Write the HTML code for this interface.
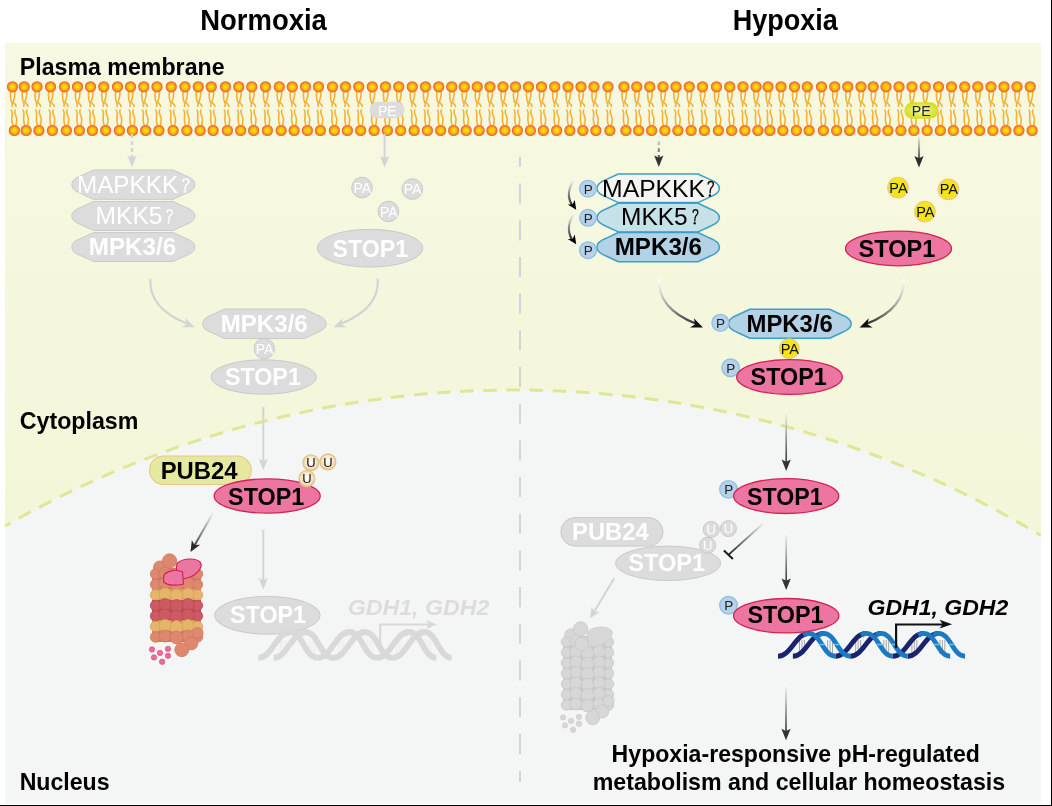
<!DOCTYPE html><html><head><meta charset="utf-8"><style>html,body{margin:0;padding:0;background:#fff;overflow:hidden}svg{display:block}text{font-family:'Liberation Sans', sans-serif}</style></head><body>
<svg width="1052" height="806" viewBox="0 0 1052 806" style="will-change:transform">
<defs>
<radialGradient id="hd" cx="0.5" cy="0.5" r="0.5"><stop offset="0" stop-color="#ffe500"/><stop offset="0.45" stop-color="#fcc40e"/><stop offset="0.78" stop-color="#f38428"/><stop offset="1" stop-color="#e6532e"/></radialGradient>
<radialGradient id="ug" cx="0.5" cy="0.45" r="0.5"><stop offset="0" stop-color="#ffffff"/><stop offset="0.6" stop-color="#f6ead2"/><stop offset="1" stop-color="#ecd2a4"/></radialGradient>
<radialGradient id="peg" cx="0.5" cy="0.5" r="0.5"><stop offset="0" stop-color="#fbfbd8"/><stop offset="0.45" stop-color="#e8ec70"/><stop offset="1" stop-color="#d5de22"/></radialGradient>
<clipPath id="bg"><rect x="5" y="43" width="1036" height="761"/></clipPath>
</defs>
<defs><linearGradient id="bgg" x1="0" y1="43" x2="0" y2="540" gradientUnits="userSpaceOnUse"><stop offset="0" stop-color="#f6f8e1"/><stop offset="1" stop-color="#f4f6d9"/></linearGradient></defs><rect x="5" y="43" width="1036" height="761" fill="url(#bgg)"/>
<g clip-path="url(#bg)"><circle cx="515" cy="1414" r="1024" fill="#f4f6f5"/><path d="M5,526.04 A1024,1024 0 0 1 1041,535.42" fill="none" stroke="#dfe794" stroke-width="3" stroke-dasharray="13.6 9.55" stroke-dashoffset="7.29"/></g>
<rect x="1051" y="0" width="1" height="806" fill="#000"/>
<rect x="0" y="805" width="1052" height="1" fill="#000"/>
<text font-size="29" font-weight="bold" font-style="normal" fill="#000" transform="translate(200.29,30) scale(0.9459,1)" >Normoxia</text>
<text font-size="29" font-weight="bold" font-style="normal" fill="#000" transform="translate(732.77,30) scale(0.9322,1)" >Hypoxia</text>
<text font-size="24.7" font-weight="bold" font-style="normal" fill="#000" transform="translate(19.77,75) scale(0.9389,1)" >Plasma membrane</text>
<text font-size="24.7" font-weight="bold" font-style="normal" fill="#000" transform="translate(19.82,429) scale(0.9392,1)" >Cytoplasm</text>
<text font-size="24.7" font-weight="bold" font-style="normal" fill="#000" transform="translate(19.65,790) scale(0.9362,1)" >Nucleus</text>
<path d="M10.70,91.5 C9.90,97 10.90,101 12.30,104 L12.00,106.5 M14.80,91.5 C15.50,96 14.00,99.5 13.10,102 C14.00,104 16.50,104.5 16.00,106.5 M11.20,110 C13.20,112 11.60,116.5 11.90,120 C12.10,123 12.70,124.5 12.90,125.5 M15.20,110 C13.20,112.5 17.00,116 16.70,120 C16.50,123 16.10,124.5 15.90,125.5 M22.45,91.5 C21.65,97 22.65,101 24.05,104 L23.75,106.5 M26.55,91.5 C27.25,96 25.75,99.5 24.85,102 C25.75,104 28.25,104.5 27.75,106.5 M22.95,110 C24.95,112 23.35,116.5 23.65,120 C23.85,123 24.45,124.5 24.65,125.5 M26.95,110 C24.95,112.5 28.75,116 28.45,120 C28.25,123 27.85,124.5 27.65,125.5 M35.20,91.5 C34.40,97 35.40,101 36.80,104 L36.50,106.5 M39.30,91.5 C40.00,96 38.50,99.5 37.60,102 C38.50,104 41.00,104.5 40.50,106.5 M35.70,110 C37.70,112 36.10,116.5 36.40,120 C36.60,123 37.20,124.5 37.40,125.5 M39.70,110 C37.70,112.5 41.50,116 41.20,120 C41.00,123 40.60,124.5 40.40,125.5 M48.70,91.5 C47.90,97 48.90,101 50.30,104 L50.00,106.5 M52.80,91.5 C53.50,96 52.00,99.5 51.10,102 C52.00,104 54.50,104.5 54.00,106.5 M49.20,110 C51.20,112 49.60,116.5 49.90,120 C50.10,123 50.70,124.5 50.90,125.5 M53.20,110 C51.20,112.5 55.00,116 54.70,120 C54.50,123 54.10,124.5 53.90,125.5 M62.70,91.5 C61.90,97 62.90,101 64.30,104 L64.00,106.5 M66.80,91.5 C67.50,96 66.00,99.5 65.10,102 C66.00,104 68.50,104.5 68.00,106.5 M63.20,110 C65.20,112 63.60,116.5 63.90,120 C64.10,123 64.70,124.5 64.90,125.5 M67.20,110 C65.20,112.5 69.00,116 68.70,120 C68.50,123 68.10,124.5 67.90,125.5 M75.70,91.5 C74.90,97 75.90,101 77.30,104 L77.00,106.5 M79.80,91.5 C80.50,96 79.00,99.5 78.10,102 C79.00,104 81.50,104.5 81.00,106.5 M76.20,110 C78.20,112 76.60,116.5 76.90,120 C77.10,123 77.70,124.5 77.90,125.5 M80.20,110 C78.20,112.5 82.00,116 81.70,120 C81.50,123 81.10,124.5 80.90,125.5 M88.70,91.5 C87.90,97 88.90,101 90.30,104 L90.00,106.5 M92.80,91.5 C93.50,96 92.00,99.5 91.10,102 C92.00,104 94.50,104.5 94.00,106.5 M89.20,110 C91.20,112 89.60,116.5 89.90,120 C90.10,123 90.70,124.5 90.90,125.5 M93.20,110 C91.20,112.5 95.00,116 94.70,120 C94.50,123 94.10,124.5 93.90,125.5 M101.95,91.5 C101.15,97 102.15,101 103.55,104 L103.25,106.5 M106.05,91.5 C106.75,96 105.25,99.5 104.35,102 C105.25,104 107.75,104.5 107.25,106.5 M102.45,110 C104.45,112 102.85,116.5 103.15,120 C103.35,123 103.95,124.5 104.15,125.5 M106.45,110 C104.45,112.5 108.25,116 107.95,120 C107.75,123 107.35,124.5 107.15,125.5 M115.70,91.5 C114.90,97 115.90,101 117.30,104 L117.00,106.5 M119.80,91.5 C120.50,96 119.00,99.5 118.10,102 C119.00,104 121.50,104.5 121.00,106.5 M116.20,110 C118.20,112 116.60,116.5 116.90,120 C117.10,123 117.70,124.5 117.90,125.5 M120.20,110 C118.20,112.5 122.00,116 121.70,120 C121.50,123 121.10,124.5 120.90,125.5 M128.70,91.5 C127.90,97 128.90,101 130.30,104 L130.00,106.5 M132.80,91.5 C133.50,96 132.00,99.5 131.10,102 C132.00,104 134.50,104.5 134.00,106.5 M129.20,110 C131.20,112 129.60,116.5 129.90,120 C130.10,123 130.70,124.5 130.90,125.5 M133.20,110 C131.20,112.5 135.00,116 134.70,120 C134.50,123 134.10,124.5 133.90,125.5 M141.95,91.5 C141.15,97 142.15,101 143.55,104 L143.25,106.5 M146.05,91.5 C146.75,96 145.25,99.5 144.35,102 C145.25,104 147.75,104.5 147.25,106.5 M142.45,110 C144.45,112 142.85,116.5 143.15,120 C143.35,123 143.95,124.5 144.15,125.5 M146.45,110 C144.45,112.5 148.25,116 147.95,120 C147.75,123 147.35,124.5 147.15,125.5 M155.20,91.5 C154.40,97 155.40,101 156.80,104 L156.50,106.5 M159.30,91.5 C160.00,96 158.50,99.5 157.60,102 C158.50,104 161.00,104.5 160.50,106.5 M155.70,110 C157.70,112 156.10,116.5 156.40,120 C156.60,123 157.20,124.5 157.40,125.5 M159.70,110 C157.70,112.5 161.50,116 161.20,120 C161.00,123 160.60,124.5 160.40,125.5 M169.45,91.5 C168.65,97 169.65,101 171.05,104 L170.75,106.5 M173.55,91.5 C174.25,96 172.75,99.5 171.85,102 C172.75,104 175.25,104.5 174.75,106.5 M169.95,110 C171.95,112 170.35,116.5 170.65,120 C170.85,123 171.45,124.5 171.65,125.5 M173.95,110 C171.95,112.5 175.75,116 175.45,120 C175.25,123 174.85,124.5 174.65,125.5 M183.20,91.5 C182.40,97 183.40,101 184.80,104 L184.50,106.5 M187.30,91.5 C188.00,96 186.50,99.5 185.60,102 C186.50,104 189.00,104.5 188.50,106.5 M183.70,110 C185.70,112 184.10,116.5 184.40,120 C184.60,123 185.20,124.5 185.40,125.5 M187.70,110 C185.70,112.5 189.50,116 189.20,120 C189.00,123 188.60,124.5 188.40,125.5 M196.45,91.5 C195.65,97 196.65,101 198.05,104 L197.75,106.5 M200.55,91.5 C201.25,96 199.75,99.5 198.85,102 C199.75,104 202.25,104.5 201.75,106.5 M196.95,110 C198.95,112 197.35,116.5 197.65,120 C197.85,123 198.45,124.5 198.65,125.5 M200.95,110 C198.95,112.5 202.75,116 202.45,120 C202.25,123 201.85,124.5 201.65,125.5 M209.45,91.5 C208.65,97 209.65,101 211.05,104 L210.75,106.5 M213.55,91.5 C214.25,96 212.75,99.5 211.85,102 C212.75,104 215.25,104.5 214.75,106.5 M209.95,110 C211.95,112 210.35,116.5 210.65,120 C210.85,123 211.45,124.5 211.65,125.5 M213.95,110 C211.95,112.5 215.75,116 215.45,120 C215.25,123 214.85,124.5 214.65,125.5 M223.70,91.5 C222.90,97 223.90,101 225.30,104 L225.00,106.5 M227.80,91.5 C228.50,96 227.00,99.5 226.10,102 C227.00,104 229.50,104.5 229.00,106.5 M224.20,110 C226.20,112 224.60,116.5 224.90,120 C225.10,123 225.70,124.5 225.90,125.5 M228.20,110 C226.20,112.5 230.00,116 229.70,120 C229.50,123 229.10,124.5 228.90,125.5 M236.95,91.5 C236.15,97 237.15,101 238.55,104 L238.25,106.5 M241.05,91.5 C241.75,96 240.25,99.5 239.35,102 C240.25,104 242.75,104.5 242.25,106.5 M237.45,110 C239.45,112 237.85,116.5 238.15,120 C238.35,123 238.95,124.5 239.15,125.5 M241.45,110 C239.45,112.5 243.25,116 242.95,120 C242.75,123 242.35,124.5 242.15,125.5 M249.95,91.5 C249.15,97 250.15,101 251.55,104 L251.25,106.5 M254.05,91.5 C254.75,96 253.25,99.5 252.35,102 C253.25,104 255.75,104.5 255.25,106.5 M250.45,110 C252.45,112 250.85,116.5 251.15,120 C251.35,123 251.95,124.5 252.15,125.5 M254.45,110 C252.45,112.5 256.25,116 255.95,120 C255.75,123 255.35,124.5 255.15,125.5 M263.70,91.5 C262.90,97 263.90,101 265.30,104 L265.00,106.5 M267.80,91.5 C268.50,96 267.00,99.5 266.10,102 C267.00,104 269.50,104.5 269.00,106.5 M264.20,110 C266.20,112 264.60,116.5 264.90,120 C265.10,123 265.70,124.5 265.90,125.5 M268.20,110 C266.20,112.5 270.00,116 269.70,120 C269.50,123 269.10,124.5 268.90,125.5 M277.45,91.5 C276.65,97 277.65,101 279.05,104 L278.75,106.5 M281.55,91.5 C282.25,96 280.75,99.5 279.85,102 C280.75,104 283.25,104.5 282.75,106.5 M277.95,110 C279.95,112 278.35,116.5 278.65,120 C278.85,123 279.45,124.5 279.65,125.5 M281.95,110 C279.95,112.5 283.75,116 283.45,120 C283.25,123 282.85,124.5 282.65,125.5 M290.45,91.5 C289.65,97 290.65,101 292.05,104 L291.75,106.5 M294.55,91.5 C295.25,96 293.75,99.5 292.85,102 C293.75,104 296.25,104.5 295.75,106.5 M290.95,110 C292.95,112 291.35,116.5 291.65,120 C291.85,123 292.45,124.5 292.65,125.5 M294.95,110 C292.95,112.5 296.75,116 296.45,120 C296.25,123 295.85,124.5 295.65,125.5 M303.70,91.5 C302.90,97 303.90,101 305.30,104 L305.00,106.5 M307.80,91.5 C308.50,96 307.00,99.5 306.10,102 C307.00,104 309.50,104.5 309.00,106.5 M304.20,110 C306.20,112 304.60,116.5 304.90,120 C305.10,123 305.70,124.5 305.90,125.5 M308.20,110 C306.20,112.5 310.00,116 309.70,120 C309.50,123 309.10,124.5 308.90,125.5 M316.70,91.5 C315.90,97 316.90,101 318.30,104 L318.00,106.5 M320.80,91.5 C321.50,96 320.00,99.5 319.10,102 C320.00,104 322.50,104.5 322.00,106.5 M317.20,110 C319.20,112 317.60,116.5 317.90,120 C318.10,123 318.70,124.5 318.90,125.5 M321.20,110 C319.20,112.5 323.00,116 322.70,120 C322.50,123 322.10,124.5 321.90,125.5 M330.70,91.5 C329.90,97 330.90,101 332.30,104 L332.00,106.5 M334.80,91.5 C335.50,96 334.00,99.5 333.10,102 C334.00,104 336.50,104.5 336.00,106.5 M331.20,110 C333.20,112 331.60,116.5 331.90,120 C332.10,123 332.70,124.5 332.90,125.5 M335.20,110 C333.20,112.5 337.00,116 336.70,120 C336.50,123 336.10,124.5 335.90,125.5 M343.70,91.5 C342.90,97 343.90,101 345.30,104 L345.00,106.5 M347.80,91.5 C348.50,96 347.00,99.5 346.10,102 C347.00,104 349.50,104.5 349.00,106.5 M344.20,110 C346.20,112 344.60,116.5 344.90,120 C345.10,123 345.70,124.5 345.90,125.5 M348.20,110 C346.20,112.5 350.00,116 349.70,120 C349.50,123 349.10,124.5 348.90,125.5 M356.95,91.5 C356.15,97 357.15,101 358.55,104 L358.25,106.5 M361.05,91.5 C361.75,96 360.25,99.5 359.35,102 C360.25,104 362.75,104.5 362.25,106.5 M357.45,110 C359.45,112 357.85,116.5 358.15,120 C358.35,123 358.95,124.5 359.15,125.5 M361.45,110 C359.45,112.5 363.25,116 362.95,120 C362.75,123 362.35,124.5 362.15,125.5 M370.45,91.5 C369.65,97 370.65,101 372.05,104 L371.75,106.5 M374.55,91.5 C375.25,96 373.75,99.5 372.85,102 C373.75,104 376.25,104.5 375.75,106.5 M370.95,110 C372.95,112 371.35,116.5 371.65,120 C371.85,123 372.45,124.5 372.65,125.5 M374.95,110 C372.95,112.5 376.75,116 376.45,120 C376.25,123 375.85,124.5 375.65,125.5 M383.70,91.5 C382.90,97 383.90,101 385.30,104 L385.00,106.5 M387.80,91.5 C388.50,96 387.00,99.5 386.10,102 C387.00,104 389.50,104.5 389.00,106.5 M384.20,110 C386.20,112 384.60,116.5 384.90,120 C385.10,123 385.70,124.5 385.90,125.5 M388.20,110 C386.20,112.5 390.00,116 389.70,120 C389.50,123 389.10,124.5 388.90,125.5 M396.95,91.5 C396.15,97 397.15,101 398.55,104 L398.25,106.5 M401.05,91.5 C401.75,96 400.25,99.5 399.35,102 C400.25,104 402.75,104.5 402.25,106.5 M397.45,110 C399.45,112 397.85,116.5 398.15,120 C398.35,123 398.95,124.5 399.15,125.5 M401.45,110 C399.45,112.5 403.25,116 402.95,120 C402.75,123 402.35,124.5 402.15,125.5 M410.45,91.5 C409.65,97 410.65,101 412.05,104 L411.75,106.5 M414.55,91.5 C415.25,96 413.75,99.5 412.85,102 C413.75,104 416.25,104.5 415.75,106.5 M410.95,110 C412.95,112 411.35,116.5 411.65,120 C411.85,123 412.45,124.5 412.65,125.5 M414.95,110 C412.95,112.5 416.75,116 416.45,120 C416.25,123 415.85,124.5 415.65,125.5 M423.70,91.5 C422.90,97 423.90,101 425.30,104 L425.00,106.5 M427.80,91.5 C428.50,96 427.00,99.5 426.10,102 C427.00,104 429.50,104.5 429.00,106.5 M424.20,110 C426.20,112 424.60,116.5 424.90,120 C425.10,123 425.70,124.5 425.90,125.5 M428.20,110 C426.20,112.5 430.00,116 429.70,120 C429.50,123 429.10,124.5 428.90,125.5 M436.95,91.5 C436.15,97 437.15,101 438.55,104 L438.25,106.5 M441.05,91.5 C441.75,96 440.25,99.5 439.35,102 C440.25,104 442.75,104.5 442.25,106.5 M437.45,110 C439.45,112 437.85,116.5 438.15,120 C438.35,123 438.95,124.5 439.15,125.5 M441.45,110 C439.45,112.5 443.25,116 442.95,120 C442.75,123 442.35,124.5 442.15,125.5 M449.95,91.5 C449.15,97 450.15,101 451.55,104 L451.25,106.5 M454.05,91.5 C454.75,96 453.25,99.5 452.35,102 C453.25,104 455.75,104.5 455.25,106.5 M450.45,110 C452.45,112 450.85,116.5 451.15,120 C451.35,123 451.95,124.5 452.15,125.5 M454.45,110 C452.45,112.5 456.25,116 455.95,120 C455.75,123 455.35,124.5 455.15,125.5 M462.45,91.5 C461.65,97 462.65,101 464.05,104 L463.75,106.5 M466.55,91.5 C467.25,96 465.75,99.5 464.85,102 C465.75,104 468.25,104.5 467.75,106.5 M462.95,110 C464.95,112 463.35,116.5 463.65,120 C463.85,123 464.45,124.5 464.65,125.5 M466.95,110 C464.95,112.5 468.75,116 468.45,120 C468.25,123 467.85,124.5 467.65,125.5 M475.45,91.5 C474.65,97 475.65,101 477.05,104 L476.75,106.5 M479.55,91.5 C480.25,96 478.75,99.5 477.85,102 C478.75,104 481.25,104.5 480.75,106.5 M475.95,110 C477.95,112 476.35,116.5 476.65,120 C476.85,123 477.45,124.5 477.65,125.5 M479.95,110 C477.95,112.5 481.75,116 481.45,120 C481.25,123 480.85,124.5 480.65,125.5 M488.20,91.5 C487.40,97 488.40,101 489.80,104 L489.50,106.5 M492.30,91.5 C493.00,96 491.50,99.5 490.60,102 C491.50,104 494.00,104.5 493.50,106.5 M488.70,110 C490.70,112 489.10,116.5 489.40,120 C489.60,123 490.20,124.5 490.40,125.5 M492.70,110 C490.70,112.5 494.50,116 494.20,120 C494.00,123 493.60,124.5 493.40,125.5 M501.20,91.5 C500.40,97 501.40,101 502.80,104 L502.50,106.5 M505.30,91.5 C506.00,96 504.50,99.5 503.60,102 C504.50,104 507.00,104.5 506.50,106.5 M501.70,110 C503.70,112 502.10,116.5 502.40,120 C502.60,123 503.20,124.5 503.40,125.5 M505.70,110 C503.70,112.5 507.50,116 507.20,120 C507.00,123 506.60,124.5 506.40,125.5 M513.70,91.5 C512.90,97 513.90,101 515.30,104 L515.00,106.5 M517.80,91.5 C518.50,96 517.00,99.5 516.10,102 C517.00,104 519.50,104.5 519.00,106.5 M514.20,110 C516.20,112 514.60,116.5 514.90,120 C515.10,123 515.70,124.5 515.90,125.5 M518.20,110 C516.20,112.5 520.00,116 519.70,120 C519.50,123 519.10,124.5 518.90,125.5 M526.70,91.5 C525.90,97 526.90,101 528.30,104 L528.00,106.5 M530.80,91.5 C531.50,96 530.00,99.5 529.10,102 C530.00,104 532.50,104.5 532.00,106.5 M527.20,110 C529.20,112 527.60,116.5 527.90,120 C528.10,123 528.70,124.5 528.90,125.5 M531.20,110 C529.20,112.5 533.00,116 532.70,120 C532.50,123 532.10,124.5 531.90,125.5 M539.70,91.5 C538.90,97 539.90,101 541.30,104 L541.00,106.5 M543.80,91.5 C544.50,96 543.00,99.5 542.10,102 C543.00,104 545.50,104.5 545.00,106.5 M540.20,110 C542.20,112 540.60,116.5 540.90,120 C541.10,123 541.70,124.5 541.90,125.5 M544.20,110 C542.20,112.5 546.00,116 545.70,120 C545.50,123 545.10,124.5 544.90,125.5 M552.95,91.5 C552.15,97 553.15,101 554.55,104 L554.25,106.5 M557.05,91.5 C557.75,96 556.25,99.5 555.35,102 C556.25,104 558.75,104.5 558.25,106.5 M553.45,110 C555.45,112 553.85,116.5 554.15,120 C554.35,123 554.95,124.5 555.15,125.5 M557.45,110 C555.45,112.5 559.25,116 558.95,120 C558.75,123 558.35,124.5 558.15,125.5 M566.20,91.5 C565.40,97 566.40,101 567.80,104 L567.50,106.5 M570.30,91.5 C571.00,96 569.50,99.5 568.60,102 C569.50,104 572.00,104.5 571.50,106.5 M566.70,110 C568.70,112 567.10,116.5 567.40,120 C567.60,123 568.20,124.5 568.40,125.5 M570.70,110 C568.70,112.5 572.50,116 572.20,120 C572.00,123 571.60,124.5 571.40,125.5 M579.20,91.5 C578.40,97 579.40,101 580.80,104 L580.50,106.5 M583.30,91.5 C584.00,96 582.50,99.5 581.60,102 C582.50,104 585.00,104.5 584.50,106.5 M579.70,110 C581.70,112 580.10,116.5 580.40,120 C580.60,123 581.20,124.5 581.40,125.5 M583.70,110 C581.70,112.5 585.50,116 585.20,120 C585.00,123 584.60,124.5 584.40,125.5 M592.20,91.5 C591.40,97 592.40,101 593.80,104 L593.50,106.5 M596.30,91.5 C597.00,96 595.50,99.5 594.60,102 C595.50,104 598.00,104.5 597.50,106.5 M592.70,110 C594.70,112 593.10,116.5 593.40,120 C593.60,123 594.20,124.5 594.40,125.5 M596.70,110 C594.70,112.5 598.50,116 598.20,120 C598.00,123 597.60,124.5 597.40,125.5 M606.20,91.5 C605.40,97 606.40,101 607.80,104 L607.50,106.5 M610.30,91.5 C611.00,96 609.50,99.5 608.60,102 C609.50,104 612.00,104.5 611.50,106.5 M606.70,110 C608.70,112 607.10,116.5 607.40,120 C607.60,123 608.20,124.5 608.40,125.5 M610.70,110 C608.70,112.5 612.50,116 612.20,120 C612.00,123 611.60,124.5 611.40,125.5 M622.20,91.5 C621.40,97 622.40,101 623.80,104 L623.50,106.5 M626.30,91.5 C627.00,96 625.50,99.5 624.60,102 C625.50,104 628.00,104.5 627.50,106.5 M622.70,110 C624.70,112 623.10,116.5 623.40,120 C623.60,123 624.20,124.5 624.40,125.5 M626.70,110 C624.70,112.5 628.50,116 628.20,120 C628.00,123 627.60,124.5 627.40,125.5 M634.95,91.5 C634.15,97 635.15,101 636.55,104 L636.25,106.5 M639.05,91.5 C639.75,96 638.25,99.5 637.35,102 C638.25,104 640.75,104.5 640.25,106.5 M635.45,110 C637.45,112 635.85,116.5 636.15,120 C636.35,123 636.95,124.5 637.15,125.5 M639.45,110 C637.45,112.5 641.25,116 640.95,120 C640.75,123 640.35,124.5 640.15,125.5 M647.95,91.5 C647.15,97 648.15,101 649.55,104 L649.25,106.5 M652.05,91.5 C652.75,96 651.25,99.5 650.35,102 C651.25,104 653.75,104.5 653.25,106.5 M648.45,110 C650.45,112 648.85,116.5 649.15,120 C649.35,123 649.95,124.5 650.15,125.5 M652.45,110 C650.45,112.5 654.25,116 653.95,120 C653.75,123 653.35,124.5 653.15,125.5 M661.20,91.5 C660.40,97 661.40,101 662.80,104 L662.50,106.5 M665.30,91.5 C666.00,96 664.50,99.5 663.60,102 C664.50,104 667.00,104.5 666.50,106.5 M661.70,110 C663.70,112 662.10,116.5 662.40,120 C662.60,123 663.20,124.5 663.40,125.5 M665.70,110 C663.70,112.5 667.50,116 667.20,120 C667.00,123 666.60,124.5 666.40,125.5 M674.20,91.5 C673.40,97 674.40,101 675.80,104 L675.50,106.5 M678.30,91.5 C679.00,96 677.50,99.5 676.60,102 C677.50,104 680.00,104.5 679.50,106.5 M674.70,110 C676.70,112 675.10,116.5 675.40,120 C675.60,123 676.20,124.5 676.40,125.5 M678.70,110 C676.70,112.5 680.50,116 680.20,120 C680.00,123 679.60,124.5 679.40,125.5 M687.45,91.5 C686.65,97 687.65,101 689.05,104 L688.75,106.5 M691.55,91.5 C692.25,96 690.75,99.5 689.85,102 C690.75,104 693.25,104.5 692.75,106.5 M687.95,110 C689.95,112 688.35,116.5 688.65,120 C688.85,123 689.45,124.5 689.65,125.5 M691.95,110 C689.95,112.5 693.75,116 693.45,120 C693.25,123 692.85,124.5 692.65,125.5 M700.70,91.5 C699.90,97 700.90,101 702.30,104 L702.00,106.5 M704.80,91.5 C705.50,96 704.00,99.5 703.10,102 C704.00,104 706.50,104.5 706.00,106.5 M701.20,110 C703.20,112 701.60,116.5 701.90,120 C702.10,123 702.70,124.5 702.90,125.5 M705.20,110 C703.20,112.5 707.00,116 706.70,120 C706.50,123 706.10,124.5 705.90,125.5 M714.70,91.5 C713.90,97 714.90,101 716.30,104 L716.00,106.5 M718.80,91.5 C719.50,96 718.00,99.5 717.10,102 C718.00,104 720.50,104.5 720.00,106.5 M715.20,110 C717.20,112 715.60,116.5 715.90,120 C716.10,123 716.70,124.5 716.90,125.5 M719.20,110 C717.20,112.5 721.00,116 720.70,120 C720.50,123 720.10,124.5 719.90,125.5 M727.95,91.5 C727.15,97 728.15,101 729.55,104 L729.25,106.5 M732.05,91.5 C732.75,96 731.25,99.5 730.35,102 C731.25,104 733.75,104.5 733.25,106.5 M728.45,110 C730.45,112 728.85,116.5 729.15,120 C729.35,123 729.95,124.5 730.15,125.5 M732.45,110 C730.45,112.5 734.25,116 733.95,120 C733.75,123 733.35,124.5 733.15,125.5 M741.20,91.5 C740.40,97 741.40,101 742.80,104 L742.50,106.5 M745.30,91.5 C746.00,96 744.50,99.5 743.60,102 C744.50,104 747.00,104.5 746.50,106.5 M741.70,110 C743.70,112 742.10,116.5 742.40,120 C742.60,123 743.20,124.5 743.40,125.5 M745.70,110 C743.70,112.5 747.50,116 747.20,120 C747.00,123 746.60,124.5 746.40,125.5 M754.20,91.5 C753.40,97 754.40,101 755.80,104 L755.50,106.5 M758.30,91.5 C759.00,96 757.50,99.5 756.60,102 C757.50,104 760.00,104.5 759.50,106.5 M754.70,110 C756.70,112 755.10,116.5 755.40,120 C755.60,123 756.20,124.5 756.40,125.5 M758.70,110 C756.70,112.5 760.50,116 760.20,120 C760.00,123 759.60,124.5 759.40,125.5 M766.20,91.5 C765.40,97 766.40,101 767.80,104 L767.50,106.5 M770.30,91.5 C771.00,96 769.50,99.5 768.60,102 C769.50,104 772.00,104.5 771.50,106.5 M766.70,110 C768.70,112 767.10,116.5 767.40,120 C767.60,123 768.20,124.5 768.40,125.5 M770.70,110 C768.70,112.5 772.50,116 772.20,120 C772.00,123 771.60,124.5 771.40,125.5 M779.20,91.5 C778.40,97 779.40,101 780.80,104 L780.50,106.5 M783.30,91.5 C784.00,96 782.50,99.5 781.60,102 C782.50,104 785.00,104.5 784.50,106.5 M779.70,110 C781.70,112 780.10,116.5 780.40,120 C780.60,123 781.20,124.5 781.40,125.5 M783.70,110 C781.70,112.5 785.50,116 785.20,120 C785.00,123 784.60,124.5 784.40,125.5 M792.70,91.5 C791.90,97 792.90,101 794.30,104 L794.00,106.5 M796.80,91.5 C797.50,96 796.00,99.5 795.10,102 C796.00,104 798.50,104.5 798.00,106.5 M793.20,110 C795.20,112 793.60,116.5 793.90,120 C794.10,123 794.70,124.5 794.90,125.5 M797.20,110 C795.20,112.5 799.00,116 798.70,120 C798.50,123 798.10,124.5 797.90,125.5 M805.45,91.5 C804.65,97 805.65,101 807.05,104 L806.75,106.5 M809.55,91.5 C810.25,96 808.75,99.5 807.85,102 C808.75,104 811.25,104.5 810.75,106.5 M805.95,110 C807.95,112 806.35,116.5 806.65,120 C806.85,123 807.45,124.5 807.65,125.5 M809.95,110 C807.95,112.5 811.75,116 811.45,120 C811.25,123 810.85,124.5 810.65,125.5 M819.70,91.5 C818.90,97 819.90,101 821.30,104 L821.00,106.5 M823.80,91.5 C824.50,96 823.00,99.5 822.10,102 C823.00,104 825.50,104.5 825.00,106.5 M820.20,110 C822.20,112 820.60,116.5 820.90,120 C821.10,123 821.70,124.5 821.90,125.5 M824.20,110 C822.20,112.5 826.00,116 825.70,120 C825.50,123 825.10,124.5 824.90,125.5 M832.95,91.5 C832.15,97 833.15,101 834.55,104 L834.25,106.5 M837.05,91.5 C837.75,96 836.25,99.5 835.35,102 C836.25,104 838.75,104.5 838.25,106.5 M833.45,110 C835.45,112 833.85,116.5 834.15,120 C834.35,123 834.95,124.5 835.15,125.5 M837.45,110 C835.45,112.5 839.25,116 838.95,120 C838.75,123 838.35,124.5 838.15,125.5 M845.95,91.5 C845.15,97 846.15,101 847.55,104 L847.25,106.5 M850.05,91.5 C850.75,96 849.25,99.5 848.35,102 C849.25,104 851.75,104.5 851.25,106.5 M846.45,110 C848.45,112 846.85,116.5 847.15,120 C847.35,123 847.95,124.5 848.15,125.5 M850.45,110 C848.45,112.5 852.25,116 851.95,120 C851.75,123 851.35,124.5 851.15,125.5 M859.20,91.5 C858.40,97 859.40,101 860.80,104 L860.50,106.5 M863.30,91.5 C864.00,96 862.50,99.5 861.60,102 C862.50,104 865.00,104.5 864.50,106.5 M859.70,110 C861.70,112 860.10,116.5 860.40,120 C860.60,123 861.20,124.5 861.40,125.5 M863.70,110 C861.70,112.5 865.50,116 865.20,120 C865.00,123 864.60,124.5 864.40,125.5 M871.45,91.5 C870.65,97 871.65,101 873.05,104 L872.75,106.5 M875.55,91.5 C876.25,96 874.75,99.5 873.85,102 C874.75,104 877.25,104.5 876.75,106.5 M871.95,110 C873.95,112 872.35,116.5 872.65,120 C872.85,123 873.45,124.5 873.65,125.5 M875.95,110 C873.95,112.5 877.75,116 877.45,120 C877.25,123 876.85,124.5 876.65,125.5 M884.20,91.5 C883.40,97 884.40,101 885.80,104 L885.50,106.5 M888.30,91.5 C889.00,96 887.50,99.5 886.60,102 C887.50,104 890.00,104.5 889.50,106.5 M884.70,110 C886.70,112 885.10,116.5 885.40,120 C885.60,123 886.20,124.5 886.40,125.5 M888.70,110 C886.70,112.5 890.50,116 890.20,120 C890.00,123 889.60,124.5 889.40,125.5 M897.20,91.5 C896.40,97 897.40,101 898.80,104 L898.50,106.5 M901.30,91.5 C902.00,96 900.50,99.5 899.60,102 C900.50,104 903.00,104.5 902.50,106.5 M897.70,110 C899.70,112 898.10,116.5 898.40,120 C898.60,123 899.20,124.5 899.40,125.5 M901.70,110 C899.70,112.5 903.50,116 903.20,120 C903.00,123 902.60,124.5 902.40,125.5 M910.20,91.5 C909.40,97 910.40,101 911.80,104 L911.50,106.5 M914.30,91.5 C915.00,96 913.50,99.5 912.60,102 C913.50,104 916.00,104.5 915.50,106.5 M910.70,110 C912.70,112 911.10,116.5 911.40,120 C911.60,123 912.20,124.5 912.40,125.5 M914.70,110 C912.70,112.5 916.50,116 916.20,120 C916.00,123 915.60,124.5 915.40,125.5 M923.45,91.5 C922.65,97 923.65,101 925.05,104 L924.75,106.5 M927.55,91.5 C928.25,96 926.75,99.5 925.85,102 C926.75,104 929.25,104.5 928.75,106.5 M923.95,110 C925.95,112 924.35,116.5 924.65,120 C924.85,123 925.45,124.5 925.65,125.5 M927.95,110 C925.95,112.5 929.75,116 929.45,120 C929.25,123 928.85,124.5 928.65,125.5 M936.70,91.5 C935.90,97 936.90,101 938.30,104 L938.00,106.5 M940.80,91.5 C941.50,96 940.00,99.5 939.10,102 C940.00,104 942.50,104.5 942.00,106.5 M937.20,110 C939.20,112 937.60,116.5 937.90,120 C938.10,123 938.70,124.5 938.90,125.5 M941.20,110 C939.20,112.5 943.00,116 942.70,120 C942.50,123 942.10,124.5 941.90,125.5 M949.70,91.5 C948.90,97 949.90,101 951.30,104 L951.00,106.5 M953.80,91.5 C954.50,96 953.00,99.5 952.10,102 C953.00,104 955.50,104.5 955.00,106.5 M950.20,110 C952.20,112 950.60,116.5 950.90,120 C951.10,123 951.70,124.5 951.90,125.5 M954.20,110 C952.20,112.5 956.00,116 955.70,120 C955.50,123 955.10,124.5 954.90,125.5 M962.95,91.5 C962.15,97 963.15,101 964.55,104 L964.25,106.5 M967.05,91.5 C967.75,96 966.25,99.5 965.35,102 C966.25,104 968.75,104.5 968.25,106.5 M963.45,110 C965.45,112 963.85,116.5 964.15,120 C964.35,123 964.95,124.5 965.15,125.5 M967.45,110 C965.45,112.5 969.25,116 968.95,120 C968.75,123 968.35,124.5 968.15,125.5 M975.95,91.5 C975.15,97 976.15,101 977.55,104 L977.25,106.5 M980.05,91.5 C980.75,96 979.25,99.5 978.35,102 C979.25,104 981.75,104.5 981.25,106.5 M976.45,110 C978.45,112 976.85,116.5 977.15,120 C977.35,123 977.95,124.5 978.15,125.5 M980.45,110 C978.45,112.5 982.25,116 981.95,120 C981.75,123 981.35,124.5 981.15,125.5 M989.20,91.5 C988.40,97 989.40,101 990.80,104 L990.50,106.5 M993.30,91.5 C994.00,96 992.50,99.5 991.60,102 C992.50,104 995.00,104.5 994.50,106.5 M989.70,110 C991.70,112 990.10,116.5 990.40,120 C990.60,123 991.20,124.5 991.40,125.5 M993.70,110 C991.70,112.5 995.50,116 995.20,120 C995.00,123 994.60,124.5 994.40,125.5 M1002.20,91.5 C1001.40,97 1002.40,101 1003.80,104 L1003.50,106.5 M1006.30,91.5 C1007.00,96 1005.50,99.5 1004.60,102 C1005.50,104 1008.00,104.5 1007.50,106.5 M1002.70,110 C1004.70,112 1003.10,116.5 1003.40,120 C1003.60,123 1004.20,124.5 1004.40,125.5 M1006.70,110 C1004.70,112.5 1008.50,116 1008.20,120 C1008.00,123 1007.60,124.5 1007.40,125.5 M1015.20,91.5 C1014.40,97 1015.40,101 1016.80,104 L1016.50,106.5 M1019.30,91.5 C1020.00,96 1018.50,99.5 1017.60,102 C1018.50,104 1021.00,104.5 1020.50,106.5 M1015.70,110 C1017.70,112 1016.10,116.5 1016.40,120 C1016.60,123 1017.20,124.5 1017.40,125.5 M1019.70,110 C1017.70,112.5 1021.50,116 1021.20,120 C1021.00,123 1020.60,124.5 1020.40,125.5 M1028.45,91.5 C1027.65,97 1028.65,101 1030.05,104 L1029.75,106.5 M1032.55,91.5 C1033.25,96 1031.75,99.5 1030.85,102 C1031.75,104 1034.25,104.5 1033.75,106.5 M1028.95,110 C1030.95,112 1029.35,116.5 1029.65,120 C1029.85,123 1030.45,124.5 1030.65,125.5 M1032.95,110 C1030.95,112.5 1034.75,116 1034.45,120 C1034.25,123 1033.85,124.5 1033.65,125.5" fill="none" stroke="#f7b030" stroke-width="1.6" stroke-linecap="round"/>
<circle cx="12.5" cy="86.8" r="5.6" fill="url(#hd)"/><circle cx="14.4" cy="130.5" r="5.6" fill="url(#hd)"/>
<circle cx="24.25" cy="86.8" r="5.6" fill="url(#hd)"/><circle cx="26.15" cy="130.5" r="5.6" fill="url(#hd)"/>
<circle cx="37" cy="86.8" r="5.6" fill="url(#hd)"/><circle cx="38.9" cy="130.5" r="5.6" fill="url(#hd)"/>
<circle cx="50.5" cy="86.8" r="5.6" fill="url(#hd)"/><circle cx="52.4" cy="130.5" r="5.6" fill="url(#hd)"/>
<circle cx="64.5" cy="86.8" r="5.6" fill="url(#hd)"/><circle cx="66.4" cy="130.5" r="5.6" fill="url(#hd)"/>
<circle cx="77.5" cy="86.8" r="5.6" fill="url(#hd)"/><circle cx="79.4" cy="130.5" r="5.6" fill="url(#hd)"/>
<circle cx="90.5" cy="86.8" r="5.6" fill="url(#hd)"/><circle cx="92.4" cy="130.5" r="5.6" fill="url(#hd)"/>
<circle cx="103.75" cy="86.8" r="5.6" fill="url(#hd)"/><circle cx="105.65" cy="130.5" r="5.6" fill="url(#hd)"/>
<circle cx="117.5" cy="86.8" r="5.6" fill="url(#hd)"/><circle cx="119.4" cy="130.5" r="5.6" fill="url(#hd)"/>
<circle cx="130.5" cy="86.8" r="5.6" fill="url(#hd)"/><circle cx="132.4" cy="130.5" r="5.6" fill="url(#hd)"/>
<circle cx="143.75" cy="86.8" r="5.6" fill="url(#hd)"/><circle cx="145.65" cy="130.5" r="5.6" fill="url(#hd)"/>
<circle cx="157" cy="86.8" r="5.6" fill="url(#hd)"/><circle cx="158.9" cy="130.5" r="5.6" fill="url(#hd)"/>
<circle cx="171.25" cy="86.8" r="5.6" fill="url(#hd)"/><circle cx="173.15" cy="130.5" r="5.6" fill="url(#hd)"/>
<circle cx="185" cy="86.8" r="5.6" fill="url(#hd)"/><circle cx="186.9" cy="130.5" r="5.6" fill="url(#hd)"/>
<circle cx="198.25" cy="86.8" r="5.6" fill="url(#hd)"/><circle cx="200.15" cy="130.5" r="5.6" fill="url(#hd)"/>
<circle cx="211.25" cy="86.8" r="5.6" fill="url(#hd)"/><circle cx="213.15" cy="130.5" r="5.6" fill="url(#hd)"/>
<circle cx="225.5" cy="86.8" r="5.6" fill="url(#hd)"/><circle cx="227.4" cy="130.5" r="5.6" fill="url(#hd)"/>
<circle cx="238.75" cy="86.8" r="5.6" fill="url(#hd)"/><circle cx="240.65" cy="130.5" r="5.6" fill="url(#hd)"/>
<circle cx="251.75" cy="86.8" r="5.6" fill="url(#hd)"/><circle cx="253.65" cy="130.5" r="5.6" fill="url(#hd)"/>
<circle cx="265.5" cy="86.8" r="5.6" fill="url(#hd)"/><circle cx="267.4" cy="130.5" r="5.6" fill="url(#hd)"/>
<circle cx="279.25" cy="86.8" r="5.6" fill="url(#hd)"/><circle cx="281.15" cy="130.5" r="5.6" fill="url(#hd)"/>
<circle cx="292.25" cy="86.8" r="5.6" fill="url(#hd)"/><circle cx="294.15" cy="130.5" r="5.6" fill="url(#hd)"/>
<circle cx="305.5" cy="86.8" r="5.6" fill="url(#hd)"/><circle cx="307.4" cy="130.5" r="5.6" fill="url(#hd)"/>
<circle cx="318.5" cy="86.8" r="5.6" fill="url(#hd)"/><circle cx="320.4" cy="130.5" r="5.6" fill="url(#hd)"/>
<circle cx="332.5" cy="86.8" r="5.6" fill="url(#hd)"/><circle cx="334.4" cy="130.5" r="5.6" fill="url(#hd)"/>
<circle cx="345.5" cy="86.8" r="5.6" fill="url(#hd)"/><circle cx="347.4" cy="130.5" r="5.6" fill="url(#hd)"/>
<circle cx="358.75" cy="86.8" r="5.6" fill="url(#hd)"/><circle cx="360.65" cy="130.5" r="5.6" fill="url(#hd)"/>
<circle cx="372.25" cy="86.8" r="5.6" fill="url(#hd)"/><circle cx="374.15" cy="130.5" r="5.6" fill="url(#hd)"/>
<circle cx="385.5" cy="86.8" r="5.6" fill="url(#hd)"/><circle cx="387.4" cy="130.5" r="5.6" fill="url(#hd)"/>
<circle cx="398.75" cy="86.8" r="5.6" fill="url(#hd)"/><circle cx="400.65" cy="130.5" r="5.6" fill="url(#hd)"/>
<circle cx="412.25" cy="86.8" r="5.6" fill="url(#hd)"/><circle cx="414.15" cy="130.5" r="5.6" fill="url(#hd)"/>
<circle cx="425.5" cy="86.8" r="5.6" fill="url(#hd)"/><circle cx="427.4" cy="130.5" r="5.6" fill="url(#hd)"/>
<circle cx="438.75" cy="86.8" r="5.6" fill="url(#hd)"/><circle cx="440.65" cy="130.5" r="5.6" fill="url(#hd)"/>
<circle cx="451.75" cy="86.8" r="5.6" fill="url(#hd)"/><circle cx="453.65" cy="130.5" r="5.6" fill="url(#hd)"/>
<circle cx="464.25" cy="86.8" r="5.6" fill="url(#hd)"/><circle cx="466.15" cy="130.5" r="5.6" fill="url(#hd)"/>
<circle cx="477.25" cy="86.8" r="5.6" fill="url(#hd)"/><circle cx="479.15" cy="130.5" r="5.6" fill="url(#hd)"/>
<circle cx="490" cy="86.8" r="5.6" fill="url(#hd)"/><circle cx="491.9" cy="130.5" r="5.6" fill="url(#hd)"/>
<circle cx="503" cy="86.8" r="5.6" fill="url(#hd)"/><circle cx="504.9" cy="130.5" r="5.6" fill="url(#hd)"/>
<circle cx="515.5" cy="86.8" r="5.6" fill="url(#hd)"/><circle cx="517.4" cy="130.5" r="5.6" fill="url(#hd)"/>
<circle cx="528.5" cy="86.8" r="5.6" fill="url(#hd)"/><circle cx="530.4" cy="130.5" r="5.6" fill="url(#hd)"/>
<circle cx="541.5" cy="86.8" r="5.6" fill="url(#hd)"/><circle cx="543.4" cy="130.5" r="5.6" fill="url(#hd)"/>
<circle cx="554.75" cy="86.8" r="5.6" fill="url(#hd)"/><circle cx="556.65" cy="130.5" r="5.6" fill="url(#hd)"/>
<circle cx="568" cy="86.8" r="5.6" fill="url(#hd)"/><circle cx="569.9" cy="130.5" r="5.6" fill="url(#hd)"/>
<circle cx="581" cy="86.8" r="5.6" fill="url(#hd)"/><circle cx="582.9" cy="130.5" r="5.6" fill="url(#hd)"/>
<circle cx="594" cy="86.8" r="5.6" fill="url(#hd)"/><circle cx="595.9" cy="130.5" r="5.6" fill="url(#hd)"/>
<circle cx="608" cy="86.8" r="5.6" fill="url(#hd)"/><circle cx="609.9" cy="130.5" r="5.6" fill="url(#hd)"/>
<circle cx="624" cy="86.8" r="5.6" fill="url(#hd)"/><circle cx="625.9" cy="130.5" r="5.6" fill="url(#hd)"/>
<circle cx="636.75" cy="86.8" r="5.6" fill="url(#hd)"/><circle cx="638.65" cy="130.5" r="5.6" fill="url(#hd)"/>
<circle cx="649.75" cy="86.8" r="5.6" fill="url(#hd)"/><circle cx="651.65" cy="130.5" r="5.6" fill="url(#hd)"/>
<circle cx="663" cy="86.8" r="5.6" fill="url(#hd)"/><circle cx="664.9" cy="130.5" r="5.6" fill="url(#hd)"/>
<circle cx="676" cy="86.8" r="5.6" fill="url(#hd)"/><circle cx="677.9" cy="130.5" r="5.6" fill="url(#hd)"/>
<circle cx="689.25" cy="86.8" r="5.6" fill="url(#hd)"/><circle cx="691.15" cy="130.5" r="5.6" fill="url(#hd)"/>
<circle cx="702.5" cy="86.8" r="5.6" fill="url(#hd)"/><circle cx="704.4" cy="130.5" r="5.6" fill="url(#hd)"/>
<circle cx="716.5" cy="86.8" r="5.6" fill="url(#hd)"/><circle cx="718.4" cy="130.5" r="5.6" fill="url(#hd)"/>
<circle cx="729.75" cy="86.8" r="5.6" fill="url(#hd)"/><circle cx="731.65" cy="130.5" r="5.6" fill="url(#hd)"/>
<circle cx="743" cy="86.8" r="5.6" fill="url(#hd)"/><circle cx="744.9" cy="130.5" r="5.6" fill="url(#hd)"/>
<circle cx="756" cy="86.8" r="5.6" fill="url(#hd)"/><circle cx="757.9" cy="130.5" r="5.6" fill="url(#hd)"/>
<circle cx="768" cy="86.8" r="5.6" fill="url(#hd)"/><circle cx="769.9" cy="130.5" r="5.6" fill="url(#hd)"/>
<circle cx="781" cy="86.8" r="5.6" fill="url(#hd)"/><circle cx="782.9" cy="130.5" r="5.6" fill="url(#hd)"/>
<circle cx="794.5" cy="86.8" r="5.6" fill="url(#hd)"/><circle cx="796.4" cy="130.5" r="5.6" fill="url(#hd)"/>
<circle cx="807.25" cy="86.8" r="5.6" fill="url(#hd)"/><circle cx="809.15" cy="130.5" r="5.6" fill="url(#hd)"/>
<circle cx="821.5" cy="86.8" r="5.6" fill="url(#hd)"/><circle cx="823.4" cy="130.5" r="5.6" fill="url(#hd)"/>
<circle cx="834.75" cy="86.8" r="5.6" fill="url(#hd)"/><circle cx="836.65" cy="130.5" r="5.6" fill="url(#hd)"/>
<circle cx="847.75" cy="86.8" r="5.6" fill="url(#hd)"/><circle cx="849.65" cy="130.5" r="5.6" fill="url(#hd)"/>
<circle cx="861" cy="86.8" r="5.6" fill="url(#hd)"/><circle cx="862.9" cy="130.5" r="5.6" fill="url(#hd)"/>
<circle cx="873.25" cy="86.8" r="5.6" fill="url(#hd)"/><circle cx="875.15" cy="130.5" r="5.6" fill="url(#hd)"/>
<circle cx="886" cy="86.8" r="5.6" fill="url(#hd)"/><circle cx="887.9" cy="130.5" r="5.6" fill="url(#hd)"/>
<circle cx="899" cy="86.8" r="5.6" fill="url(#hd)"/><circle cx="900.9" cy="130.5" r="5.6" fill="url(#hd)"/>
<circle cx="912" cy="86.8" r="5.6" fill="url(#hd)"/><circle cx="913.9" cy="130.5" r="5.6" fill="url(#hd)"/>
<circle cx="925.25" cy="86.8" r="5.6" fill="url(#hd)"/><circle cx="927.15" cy="130.5" r="5.6" fill="url(#hd)"/>
<circle cx="938.5" cy="86.8" r="5.6" fill="url(#hd)"/><circle cx="940.4" cy="130.5" r="5.6" fill="url(#hd)"/>
<circle cx="951.5" cy="86.8" r="5.6" fill="url(#hd)"/><circle cx="953.4" cy="130.5" r="5.6" fill="url(#hd)"/>
<circle cx="964.75" cy="86.8" r="5.6" fill="url(#hd)"/><circle cx="966.65" cy="130.5" r="5.6" fill="url(#hd)"/>
<circle cx="977.75" cy="86.8" r="5.6" fill="url(#hd)"/><circle cx="979.65" cy="130.5" r="5.6" fill="url(#hd)"/>
<circle cx="991" cy="86.8" r="5.6" fill="url(#hd)"/><circle cx="992.9" cy="130.5" r="5.6" fill="url(#hd)"/>
<circle cx="1004" cy="86.8" r="5.6" fill="url(#hd)"/><circle cx="1005.9" cy="130.5" r="5.6" fill="url(#hd)"/>
<circle cx="1017" cy="86.8" r="5.6" fill="url(#hd)"/><circle cx="1018.9" cy="130.5" r="5.6" fill="url(#hd)"/>
<circle cx="1030.25" cy="86.8" r="5.6" fill="url(#hd)"/><circle cx="1032.15" cy="130.5" r="5.6" fill="url(#hd)"/>
<line x1="520" y1="157" x2="520" y2="782" stroke="#d3d4d9" stroke-width="2" stroke-dasharray="20 16.7" stroke-dashoffset="10.2"/>
<rect x="369.5" y="101.8" width="35" height="16.4" rx="8.2" fill="#dcdcdc"/>
<text font-size="14.5" font-weight="normal" fill="#fff" text-anchor="middle" transform="translate(387.3,115.8) scale(0.97,1)">PE</text>
<line x1="384.6" y1="134" x2="384.6" y2="159.0" stroke="#d3d4d8" stroke-width="2.1"/><path d="M384.60,167.50 L380.00,156.00 L384.60,158.20 L389.20,156.00 Z" fill="#d3d4d8"/>
<line x1="132" y1="134" x2="132" y2="158.5" stroke="#d3d4d8" stroke-width="2.2" stroke-dasharray="4 3"/><path d="M132.00,167.00 L127.40,155.50 L132.00,157.70 L136.60,155.50 Z" fill="#d3d4d8"/>
<path d="M93.41,170.00 L173.29,170.00 L185.12,175.57 C192.65,178.50 194.80,180.99 194.80,184.65 C194.80,188.31 192.65,190.80 185.12,193.73 L173.29,199.30 L93.41,199.30 L81.58,193.73 C74.05,190.80 71.90,188.31 71.90,184.65 C71.90,180.99 74.05,178.50 81.58,175.57 Z" fill="#dcdcdc" stroke="#c9c9c9" stroke-width="1" stroke-linejoin="round"/>
<path d="M93.41,201.50 L173.29,201.50 L185.12,207.01 C192.65,209.91 194.80,212.38 194.80,216.00 C194.80,219.62 192.65,222.09 185.12,224.99 L173.29,230.50 L93.41,230.50 L81.58,224.99 C74.05,222.09 71.90,219.62 71.90,216.00 C71.90,212.38 74.05,209.91 81.58,207.01 Z" fill="#dcdcdc" stroke="#c9c9c9" stroke-width="1" stroke-linejoin="round"/>
<path d="M93.41,232.60 L173.29,232.60 L185.12,238.09 C192.65,240.98 194.80,243.44 194.80,247.05 C194.80,250.66 192.65,253.12 185.12,256.01 L173.29,261.50 L93.41,261.50 L81.58,256.01 C74.05,253.12 71.90,250.66 71.90,247.05 C71.90,243.44 74.05,240.98 81.58,238.09 Z" fill="#dcdcdc" stroke="#c9c9c9" stroke-width="1" stroke-linejoin="round"/>
<text font-size="24.7" font-weight="normal" font-style="normal" fill="#fff" transform="translate(76.92,193) scale(0.9841,1)" >MAPKKK</text>
<text font-size="24.7" font-weight="normal" font-style="normal" fill="#fff" transform="translate(95.61,224) scale(0.9939,1)" >MKK5</text>
<text font-size="23.3" font-weight="bold" font-style="normal" fill="#fff" transform="translate(88.74,255) scale(1.039,1)" >MPK3/6</text>
<g transform="translate(182.1,178.3) scale(1.090,0.918)"><path d="M0.9,3.2 C0.9,1.2 2.4,0.6 3.5,0.6 C5.2,0.6 6.1,1.8 6.1,3.4 C6.1,5.3 4.6,6.3 3.7,7.3 C2.9,8.2 2.8,9.2 2.8,12.2" fill="none" stroke="#fff" stroke-width="1.45" stroke-linecap="round"/><circle cx="2.6" cy="14.6" r="1.25" fill="#fff"/></g>
<g transform="translate(166.1,209.3) scale(1.000,0.912)"><path d="M0.9,3.2 C0.9,1.2 2.4,0.6 3.5,0.6 C5.2,0.6 6.1,1.8 6.1,3.4 C6.1,5.3 4.6,6.3 3.7,7.3 C2.9,8.2 2.8,9.2 2.8,12.2" fill="none" stroke="#fff" stroke-width="1.45" stroke-linecap="round"/><circle cx="2.6" cy="14.6" r="1.25" fill="#fff"/></g>
<circle cx="362" cy="187.6" r="10.3" fill="#dcdcdc" stroke="#c9c9c9" stroke-width="1"/>
<text font-size="14.5" font-weight="normal" fill="#fff" text-anchor="middle" transform="translate(362.3,192.6) scale(0.97,1)">PA</text>
<circle cx="412.3" cy="189.1" r="10.3" fill="#dcdcdc" stroke="#c9c9c9" stroke-width="1"/>
<text font-size="14.5" font-weight="normal" fill="#fff" text-anchor="middle" transform="translate(412.6,194.1) scale(0.97,1)">PA</text>
<circle cx="388.5" cy="211.5" r="10.3" fill="#dcdcdc" stroke="#c9c9c9" stroke-width="1"/>
<text font-size="14.5" font-weight="normal" fill="#fff" text-anchor="middle" transform="translate(388.8,216.5) scale(0.97,1)">PA</text>
<ellipse cx="370" cy="248.2" rx="52.8" ry="18.9" fill="#dcdcdc" stroke="#c9c9c9" stroke-width="1"/>
<text font-size="23.3" font-weight="bold" font-style="normal" fill="#fff" transform="translate(332.6,257) scale(0.9947,1)" >STOP1</text>
<path d="M150.4,278.7 C149,300 163,314 187,323.5" fill="none" stroke="#d3d4d8" stroke-width="2.2"/><path d="M194.70,327.30 L181.70,327.26 L186.86,324.01 L185.57,318.04 Z" fill="#d3d4d8"/>
<path d="M377.8,278.7 C379.2,300 365.2,314 341.2,323.5" fill="none" stroke="#d3d4d8" stroke-width="2.2"/><path d="M333.50,327.30 L342.63,318.04 L341.34,324.01 L346.50,327.26 Z" fill="#d3d4d8"/>
<path d="M224.29,309.00 L304.50,309.00 L316.38,314.62 C323.94,317.58 326.10,320.10 326.10,323.80 C326.10,327.50 323.94,330.02 316.38,332.98 L304.50,338.60 L224.29,338.60 L212.42,332.98 C204.86,330.02 202.70,327.50 202.70,323.80 C202.70,320.10 204.86,317.58 212.42,314.62 Z" fill="#dcdcdc" stroke="#c9c9c9" stroke-width="1" stroke-linejoin="round"/>
<text font-size="23.3" font-weight="bold" font-style="normal" fill="#fff" transform="translate(220.74,332) scale(1.0343,1)" >MPK3/6</text>
<circle cx="264.3" cy="348.6" r="10.2" fill="#dcdcdc" stroke="#c9c9c9" stroke-width="1"/>
<text font-size="14.5" font-weight="normal" fill="#fff" text-anchor="middle" transform="translate(264.6,353.6) scale(0.97,1)">PA</text>
<ellipse cx="263.7" cy="377" rx="52.7" ry="17.2" fill="#dcdcdc" stroke="#c9c9c9" stroke-width="1"/>
<text font-size="23.3" font-weight="bold" font-style="normal" fill="#fff" transform="translate(224.9,385) scale(1.0,1)" >STOP1</text>
<line x1="263.3" y1="407" x2="263.3" y2="461.8" stroke="#d3d4d8" stroke-width="2"/><path d="M263.30,470.30 L258.70,458.80 L263.30,461.00 L267.90,458.80 Z" fill="#d3d4d8"/>
<rect x="149.5" y="456" width="101.7" height="28.5" rx="14.25" fill="#e4e99f" stroke="#e9c48c" stroke-width="1.1"/>
<text font-size="23.3" font-weight="bold" font-style="normal" fill="#000" transform="translate(160.67,479) scale(1.0244,1)" >PUB24</text>
<ellipse cx="267.2" cy="496" rx="53" ry="17.1" fill="#ec76a1" stroke="#d02453" stroke-width="1.3"/>
<text font-size="23.3" font-weight="bold" font-style="normal" fill="#000" transform="translate(228.09,505) scale(1.0028,1)" >STOP1</text>
<circle cx="310.9" cy="462.8" r="7.9" fill="url(#ug)" stroke="#e7bf83" stroke-width="1.3"/>
<text font-size="13" font-weight="normal" fill="#111" text-anchor="middle" transform="translate(310.9,467.40000000000003) scale(1.0,1)">U</text>
<circle cx="327.9" cy="461.9" r="7.9" fill="url(#ug)" stroke="#e7bf83" stroke-width="1.3"/>
<text font-size="13" font-weight="normal" fill="#111" text-anchor="middle" transform="translate(327.9,466.5) scale(1.0,1)">U</text>
<circle cx="306.9" cy="478.6" r="7.9" fill="url(#ug)" stroke="#e7bf83" stroke-width="1.3"/>
<text font-size="13" font-weight="normal" fill="#111" text-anchor="middle" transform="translate(306.9,483.20000000000005) scale(1.0,1)">U</text>
<defs><linearGradient id="g1" x1="214.4" y1="510.5" x2="191" y2="552" gradientUnits="userSpaceOnUse"><stop offset="0" stop-color="#ffffff"/><stop offset="1" stop-color="#2a2a2a"/></linearGradient></defs>
<line x1="214.4" y1="510.5" x2="194.5" y2="545.5" stroke="url(#g1)" stroke-width="2.1"/><path d="M190.50,552.00 L191.84,540.07 L194.50,545.07 L200.16,544.87 Z" fill="#2a2a2a"/>
<rect x="152" y="568" width="49" height="74" rx="5" fill="#cf7862"/><rect x="152" y="589" width="49" height="42" fill="#d7a25a"/><rect x="152" y="600" width="49" height="20" fill="#bb4b55"/><circle cx="160.0" cy="567.4" r="6.5" fill="#df8870" stroke="#cf7862" stroke-width="0.8"/><circle cx="169.6" cy="561.0" r="7.2" fill="#df8870" stroke="#cf7862" stroke-width="0.8"/><circle cx="155.5" cy="574.0" r="5.2" fill="#df8870" stroke="#cf7862" stroke-width="0.8"/><circle cx="197.5" cy="574.0" r="5.2" fill="#df8870" stroke="#cf7862" stroke-width="0.8"/><circle cx="155.5" cy="584.5" r="5.2" fill="#df8870" stroke="#cf7862" stroke-width="0.8"/><circle cx="197.5" cy="584.5" r="5.2" fill="#df8870" stroke="#cf7862" stroke-width="0.8"/><circle cx="155.5" cy="595.0" r="5.2" fill="#e6b56a" stroke="#d7a25a" stroke-width="0.8"/><circle cx="197.5" cy="595.0" r="5.2" fill="#e6b56a" stroke="#d7a25a" stroke-width="0.8"/><circle cx="155.5" cy="605.5" r="5.2" fill="#cd5a62" stroke="#bb4b55" stroke-width="0.8"/><circle cx="197.5" cy="605.5" r="5.2" fill="#cd5a62" stroke="#bb4b55" stroke-width="0.8"/><circle cx="155.5" cy="616.0" r="5.2" fill="#cd5a62" stroke="#bb4b55" stroke-width="0.8"/><circle cx="197.5" cy="616.0" r="5.2" fill="#cd5a62" stroke="#bb4b55" stroke-width="0.8"/><circle cx="155.5" cy="626.5" r="5.2" fill="#e6b56a" stroke="#d7a25a" stroke-width="0.8"/><circle cx="197.5" cy="626.5" r="5.2" fill="#e6b56a" stroke="#d7a25a" stroke-width="0.8"/><circle cx="155.5" cy="637.0" r="5.2" fill="#df8870" stroke="#cf7862" stroke-width="0.8"/><circle cx="197.5" cy="637.0" r="5.2" fill="#df8870" stroke="#cf7862" stroke-width="0.8"/><circle cx="165.0" cy="573.0" r="6" fill="#df8870" stroke="#cf7862" stroke-width="0.8"/><circle cx="188.0" cy="573.0" r="6" fill="#df8870" stroke="#cf7862" stroke-width="0.8"/><circle cx="165.0" cy="583.5" r="6" fill="#df8870" stroke="#cf7862" stroke-width="0.8"/><circle cx="188.0" cy="583.5" r="6" fill="#df8870" stroke="#cf7862" stroke-width="0.8"/><circle cx="165.0" cy="594.0" r="6" fill="#e6b56a" stroke="#d7a25a" stroke-width="0.8"/><circle cx="188.0" cy="594.0" r="6" fill="#e6b56a" stroke="#d7a25a" stroke-width="0.8"/><circle cx="165.0" cy="604.5" r="6" fill="#cd5a62" stroke="#bb4b55" stroke-width="0.8"/><circle cx="188.0" cy="604.5" r="6" fill="#cd5a62" stroke="#bb4b55" stroke-width="0.8"/><circle cx="165.0" cy="615.0" r="6" fill="#cd5a62" stroke="#bb4b55" stroke-width="0.8"/><circle cx="188.0" cy="615.0" r="6" fill="#cd5a62" stroke="#bb4b55" stroke-width="0.8"/><circle cx="165.0" cy="625.5" r="6" fill="#e6b56a" stroke="#d7a25a" stroke-width="0.8"/><circle cx="188.0" cy="625.5" r="6" fill="#e6b56a" stroke="#d7a25a" stroke-width="0.8"/><circle cx="165.0" cy="636.0" r="6" fill="#df8870" stroke="#cf7862" stroke-width="0.8"/><circle cx="188.0" cy="636.0" r="6" fill="#df8870" stroke="#cf7862" stroke-width="0.8"/><circle cx="176.5" cy="574.5" r="6.4" fill="#df8870" stroke="#cf7862" stroke-width="0.8"/><circle cx="176.5" cy="585.0" r="6.4" fill="#df8870" stroke="#cf7862" stroke-width="0.8"/><circle cx="176.5" cy="595.5" r="6.4" fill="#e6b56a" stroke="#d7a25a" stroke-width="0.8"/><circle cx="176.5" cy="606.0" r="6.4" fill="#cd5a62" stroke="#bb4b55" stroke-width="0.8"/><circle cx="176.5" cy="616.5" r="6.4" fill="#cd5a62" stroke="#bb4b55" stroke-width="0.8"/><circle cx="176.5" cy="627.0" r="6.4" fill="#e6b56a" stroke="#d7a25a" stroke-width="0.8"/><circle cx="176.5" cy="637.5" r="6.4" fill="#df8870" stroke="#cf7862" stroke-width="0.8"/><circle cx="170.6" cy="575.8" r="6.8" fill="#df8870" stroke="#cf7862" stroke-width="0.8"/><circle cx="197.6" cy="633.0" r="5.5" fill="#df8870" stroke="#cf7862" stroke-width="0.8"/><circle cx="191.3" cy="643.4" r="6.5" fill="#df8870" stroke="#cf7862" stroke-width="0.8"/><circle cx="181.8" cy="649.7" r="7" fill="#df8870" stroke="#cf7862" stroke-width="0.8"/>
<path d="M177.5,563 C183,558 196,557.5 200.5,562.5 C203,567 198,574 189,577.5 L183,579 C177,577 175,567 177.5,563 Z" fill="#ec76a1" stroke="#d02453" stroke-width="1.2"/>
<path d="M165.5,573.5 C170,569.5 178,569.5 182.5,572 L183.5,584 C177,586 168,585.5 164,582.5 C163,578.5 163.5,575.5 165.5,573.5 Z" fill="#ec76a1" stroke="#d02453" stroke-width="1.2"/>
<circle cx="152" cy="649.4" r="2.7" fill="#ec6c99" stroke="#d6447a" stroke-width="0.6"/>
<circle cx="160" cy="652.9" r="2.7" fill="#ec6c99" stroke="#d6447a" stroke-width="0.6"/>
<circle cx="168" cy="648.9" r="2.7" fill="#ec6c99" stroke="#d6447a" stroke-width="0.6"/>
<circle cx="154" cy="657.4" r="2.7" fill="#ec6c99" stroke="#d6447a" stroke-width="0.6"/>
<circle cx="168" cy="655.8" r="2.7" fill="#ec6c99" stroke="#d6447a" stroke-width="0.6"/>
<circle cx="162.1" cy="661.8" r="2.7" fill="#ec6c99" stroke="#d6447a" stroke-width="0.6"/>
<line x1="263.3" y1="529.7" x2="263.3" y2="581.1" stroke="#d3d4d8" stroke-width="2"/><path d="M263.30,589.60 L258.70,578.10 L263.30,580.30 L267.90,578.10 Z" fill="#d3d4d8"/>
<ellipse cx="267.4" cy="615.3" rx="52.8" ry="18.9" fill="#dcdcdc" stroke="#c9c9c9" stroke-width="1"/>
<text font-size="23.3" font-weight="bold" font-style="normal" fill="#fff" transform="translate(230.09,623) scale(1.0002,1)" >STOP1</text>
<line x1="280.56" y1="639.68" x2="280.56" y2="655.04" stroke="#ececec" stroke-width="1"/><line x1="283.10" y1="639.68" x2="283.10" y2="655.04" stroke="#ececec" stroke-width="1"/><line x1="285.65" y1="639.68" x2="285.65" y2="655.04" stroke="#ececec" stroke-width="1"/><line x1="309.60" y1="639.68" x2="309.60" y2="655.04" stroke="#ececec" stroke-width="1"/><line x1="312.15" y1="639.68" x2="312.15" y2="655.04" stroke="#ececec" stroke-width="1"/><line x1="314.69" y1="639.68" x2="314.69" y2="655.04" stroke="#ececec" stroke-width="1"/><line x1="338.65" y1="639.68" x2="338.65" y2="655.04" stroke="#ececec" stroke-width="1"/><line x1="341.19" y1="639.68" x2="341.19" y2="655.04" stroke="#ececec" stroke-width="1"/><line x1="343.74" y1="639.68" x2="343.74" y2="655.04" stroke="#ececec" stroke-width="1"/><line x1="367.69" y1="639.68" x2="367.69" y2="655.04" stroke="#ececec" stroke-width="1"/><line x1="370.24" y1="639.68" x2="370.24" y2="655.04" stroke="#ececec" stroke-width="1"/><line x1="372.78" y1="639.68" x2="372.78" y2="655.04" stroke="#ececec" stroke-width="1"/><line x1="396.74" y1="639.68" x2="396.74" y2="655.04" stroke="#ececec" stroke-width="1"/><line x1="399.28" y1="639.68" x2="399.28" y2="655.04" stroke="#ececec" stroke-width="1"/><line x1="401.82" y1="639.68" x2="401.82" y2="655.04" stroke="#ececec" stroke-width="1"/><line x1="425.78" y1="639.68" x2="425.78" y2="655.04" stroke="#ececec" stroke-width="1"/><line x1="428.32" y1="639.68" x2="428.32" y2="655.04" stroke="#ececec" stroke-width="1"/><line x1="430.87" y1="639.68" x2="430.87" y2="655.04" stroke="#ececec" stroke-width="1"/><path d="M258.30,657.92 C272.08,657.92 276.32,632.00 290.10,632.00 M317.66,657.92 C331.44,657.92 335.68,632.00 349.46,632.00 M377.02,657.92 C390.80,657.92 395.04,632.00 408.82,632.00 M273.67,657.92 C287.45,657.92 291.69,632.00 305.47,632.00 M333.03,657.92 C346.81,657.92 351.05,632.00 364.83,632.00 M392.39,657.92 C406.17,657.92 410.41,632.00 424.19,632.00" fill="none" stroke="#d9d9d9" stroke-width="5.8"/><path d="M284.80,634.11 C287.45,632.29 289.04,632.00 290.10,632.00 C302.82,632.00 304.94,657.92 317.66,657.92 M344.16,634.11 C346.81,632.29 348.40,632.00 349.46,632.00 C362.18,632.00 364.30,657.92 377.02,657.92 M403.52,634.11 C406.17,632.29 407.76,632.00 408.82,632.00 C421.54,632.00 423.66,657.92 436.38,657.92 M300.17,634.11 C302.82,632.29 304.41,632.00 305.47,632.00 C318.19,632.00 320.31,657.92 333.03,657.92 M359.53,634.11 C362.18,632.29 363.77,632.00 364.83,632.00 C377.55,632.00 379.67,657.92 392.39,657.92 M418.89,634.11 C421.54,632.29 423.13,632.00 424.19,632.00 C436.91,632.00 439.03,657.92 451.75,657.92" fill="none" stroke="#d9d9d9" stroke-width="5.8"/>
<text font-size="21.8" font-weight="bold" font-style="italic" fill="#dcdcdc" transform="translate(347.77,615) scale(1.0632,1)" >GDH1, GDH2</text>
<path d="M380.2,646 L380.2,624.5 L429,624.5" fill="none" stroke="#d8d8d8" stroke-width="2"/><path d="M437.00,624.50 L426.00,629.00 L428.50,624.50 L426.00,620.00 Z" fill="#d8d8d8"/>
<rect x="904.3" y="102.3" width="34" height="16.4" rx="8.2" fill="url(#peg)"/>
<text font-size="14.7" font-weight="normal" fill="#222" text-anchor="middle" transform="translate(921.3,116.2) scale(0.97,1)">PE</text>
<defs><linearGradient id="g2" x1="0" y1="134" x2="0" y2="167.5" gradientUnits="userSpaceOnUse"><stop offset="0" stop-color="#ffffff"/><stop offset="1" stop-color="#1a1a1a"/></linearGradient></defs>
<line x1="919" y1="134" x2="919" y2="159.0" stroke="url(#g2)" stroke-width="2.1"/><path d="M919.00,167.50 L914.40,156.00 L919.00,158.20 L923.60,156.00 Z" fill="#2e2e2e"/>
<defs><linearGradient id="g3" x1="0" y1="134" x2="0" y2="167" gradientUnits="userSpaceOnUse"><stop offset="0" stop-color="#ffffff"/><stop offset="1" stop-color="#1a1a1a"/></linearGradient></defs>
<line x1="658.8" y1="134" x2="658.8" y2="158.5" stroke="url(#g3)" stroke-width="2.2" stroke-dasharray="4 3"/><path d="M658.80,167.00 L654.20,155.50 L658.80,157.70 L663.40,155.50 Z" fill="#333"/>
<path d="M618.34,174.00 L697.96,174.00 L709.75,179.43 C717.26,182.29 719.40,184.73 719.40,188.30 C719.40,191.88 717.26,194.31 709.75,197.17 L697.96,202.60 L618.34,202.60 L606.55,197.17 C599.04,194.31 596.90,191.88 596.90,188.30 C596.90,184.73 599.04,182.29 606.55,179.43 Z" fill="#f4f4f0" stroke="#3ba0c6" stroke-width="1.5" stroke-linejoin="round"/>
<path d="M618.34,203.30 L697.96,203.30 L709.75,208.73 C717.26,211.59 719.40,214.03 719.40,217.60 C719.40,221.18 717.26,223.61 709.75,226.47 L697.96,231.90 L618.34,231.90 L606.55,226.47 C599.04,223.61 596.90,221.18 596.90,217.60 C596.90,214.03 599.04,211.59 606.55,208.73 Z" fill="#c6e1e8" stroke="#3ba0c6" stroke-width="1.5" stroke-linejoin="round"/>
<path d="M618.34,232.50 L697.96,232.50 L709.75,238.07 C717.26,241.00 719.40,243.49 719.40,247.15 C719.40,250.81 717.26,253.30 709.75,256.23 L697.96,261.80 L618.34,261.80 L606.55,256.23 C599.04,253.30 596.90,250.81 596.90,247.15 C596.90,243.49 599.04,241.00 606.55,238.07 Z" fill="#b3d2e6" stroke="#3ba0c6" stroke-width="1.5" stroke-linejoin="round"/>
<text font-size="24.7" font-weight="normal" font-style="normal" fill="#000" transform="translate(602.1,197) scale(1.0,1)" >MAPKKK</text>
<text font-size="24.7" font-weight="normal" font-style="normal" fill="#000" transform="translate(621.02,225) scale(0.9908,1)" >MKK5</text>
<text font-size="23.3" font-weight="bold" font-style="normal" fill="#000" transform="translate(614.75,255) scale(1.0366,1)" >MPK3/6</text>
<g transform="translate(707.3,180.9) scale(1.000,1.000)"><path d="M0.9,3.2 C0.9,1.2 2.4,0.6 3.5,0.6 C5.2,0.6 6.1,1.8 6.1,3.4 C6.1,5.3 4.6,6.3 3.7,7.3 C2.9,8.2 2.8,9.2 2.8,12.2" fill="none" stroke="#111" stroke-width="1.45" stroke-linecap="round"/><circle cx="2.6" cy="14.6" r="1.25" fill="#111"/></g>
<g transform="translate(692.3,209.1) scale(0.910,0.969)"><path d="M0.9,3.2 C0.9,1.2 2.4,0.6 3.5,0.6 C5.2,0.6 6.1,1.8 6.1,3.4 C6.1,5.3 4.6,6.3 3.7,7.3 C2.9,8.2 2.8,9.2 2.8,12.2" fill="none" stroke="#111" stroke-width="1.45" stroke-linecap="round"/><circle cx="2.6" cy="14.6" r="1.25" fill="#111"/></g>
<circle cx="588" cy="188.7" r="8.4" fill="#b5d2ea" stroke="#8fbfe0" stroke-width="1.3"/>
<text font-size="13.5" font-weight="normal" fill="#222" text-anchor="middle" transform="translate(588.2,193.5) scale(1.0,1)">P</text>
<circle cx="588" cy="217.8" r="8.4" fill="#b5d2ea" stroke="#8fbfe0" stroke-width="1.3"/>
<text font-size="13.5" font-weight="normal" fill="#222" text-anchor="middle" transform="translate(588.2,222.60000000000002) scale(1.0,1)">P</text>
<circle cx="588" cy="250.2" r="8.4" fill="#b5d2ea" stroke="#8fbfe0" stroke-width="1.3"/>
<text font-size="13.5" font-weight="normal" fill="#222" text-anchor="middle" transform="translate(588.2,255.0) scale(1.0,1)">P</text>
<defs><linearGradient id="g4" x1="575" y1="179" x2="576" y2="210" gradientUnits="userSpaceOnUse"><stop offset="0" stop-color="#ffffff"/><stop offset="1" stop-color="#000000"/></linearGradient></defs>
<path d="M575.1,179 C568,187 567,197 572,205" fill="none" stroke="url(#g4)" stroke-width="2.1"/><path d="M576.20,209.70 L567.73,204.52 L572.61,204.28 L574.73,199.88 Z" fill="#000"/>
<defs><linearGradient id="g5" x1="575" y1="213" x2="576" y2="244" gradientUnits="userSpaceOnUse"><stop offset="0" stop-color="#ffffff"/><stop offset="1" stop-color="#000000"/></linearGradient></defs>
<path d="M575.1,213 C568,221 567,231 572,239.5" fill="none" stroke="url(#g5)" stroke-width="2.1"/><path d="M576.20,244.30 L567.73,239.12 L572.61,238.88 L574.73,234.48 Z" fill="#000"/>
<circle cx="898" cy="187.6" r="10.3" fill="#f6e41a" stroke="#e8c98e" stroke-width="1.1"/>
<text font-size="14.5" font-weight="normal" fill="#111" text-anchor="middle" transform="translate(898.5,192.6) scale(1.0,1)">PA</text>
<circle cx="948.4" cy="189.3" r="10.3" fill="#f6e41a" stroke="#e8c98e" stroke-width="1.1"/>
<text font-size="14.5" font-weight="normal" fill="#111" text-anchor="middle" transform="translate(948.9,194.3) scale(1.0,1)">PA</text>
<circle cx="924.9" cy="211.6" r="10.3" fill="#f6e41a" stroke="#e8c98e" stroke-width="1.1"/>
<text font-size="14.5" font-weight="normal" fill="#111" text-anchor="middle" transform="translate(925.4,216.6) scale(1.0,1)">PA</text>
<ellipse cx="898.5" cy="248.5" rx="53" ry="17.3" fill="#ec76a1" stroke="#d02453" stroke-width="1.3"/>
<text font-size="23.3" font-weight="bold" font-style="normal" fill="#000" transform="translate(858.49,257) scale(1.0107,1)" >STOP1</text>
<defs><linearGradient id="g6" x1="659" y1="279" x2="703" y2="328" gradientUnits="userSpaceOnUse"><stop offset="0" stop-color="#ffffff"/><stop offset="1" stop-color="#111111"/></linearGradient></defs>
<path d="M659.1,278.7 C657.7,300 671.7,314 695.7,323.5" fill="none" stroke="url(#g6)" stroke-width="2.2"/><path d="M703.00,327.60 L690.00,327.56 L695.16,324.31 L693.87,318.34 Z" fill="#111"/>
<defs><linearGradient id="g7" x1="903.7" y1="279" x2="859.5" y2="328" gradientUnits="userSpaceOnUse"><stop offset="0" stop-color="#ffffff"/><stop offset="1" stop-color="#111111"/></linearGradient></defs>
<path d="M903.7,278.7 C905.1,300 891.1,314 867.1,323.5" fill="none" stroke="url(#g7)" stroke-width="2.2"/><path d="M859.60,327.60 L868.73,318.34 L867.44,324.31 L872.60,327.56 Z" fill="#111"/>
<path d="M749.89,309.30 L829.71,309.30 L841.53,314.79 C849.05,317.68 851.20,320.14 851.20,323.75 C851.20,327.36 849.05,329.82 841.53,332.71 L829.71,338.20 L749.89,338.20 L738.07,332.71 C730.55,329.82 728.40,327.36 728.40,323.75 C728.40,320.14 730.55,317.68 738.07,314.79 Z" fill="#b3d2e6" stroke="#3ba0c6" stroke-width="1.5" stroke-linejoin="round"/>
<text font-size="23.3" font-weight="bold" font-style="normal" fill="#000" transform="translate(746.45,332) scale(1.0269,1)" >MPK3/6</text>
<circle cx="720.4" cy="322.8" r="8.5" fill="#b5d2ea" stroke="#8fbfe0" stroke-width="1.3"/>
<text font-size="13.5" font-weight="normal" fill="#222" text-anchor="middle" transform="translate(720.6,327.6) scale(1.0,1)">P</text>
<circle cx="789.3" cy="348.7" r="9.9" fill="#f6e41a" stroke="#e8c98e" stroke-width="1.1"/>
<text font-size="14.5" font-weight="normal" fill="#111" text-anchor="middle" transform="translate(789.8,353.7) scale(1.0,1)">PA</text>
<circle cx="730.6" cy="367.8" r="8.8" fill="#b5d2ea" stroke="#8fbfe0" stroke-width="1.3"/>
<text font-size="13.5" font-weight="normal" fill="#222" text-anchor="middle" transform="translate(730.8,372.6) scale(1.0,1)">P</text>
<ellipse cx="789.5" cy="377" rx="52.8" ry="17.4" fill="#ec76a1" stroke="#d02453" stroke-width="1.3"/>
<text font-size="23.3" font-weight="bold" font-style="normal" fill="#000" transform="translate(750.6,385) scale(1.0027,1)" >STOP1</text>
<defs><linearGradient id="g8" x1="0" y1="409.4" x2="0" y2="471" gradientUnits="userSpaceOnUse"><stop offset="0" stop-color="#ffffff"/><stop offset="1" stop-color="#1a1a1a"/></linearGradient></defs>
<line x1="786.2" y1="409.4" x2="786.2" y2="462.5" stroke="url(#g8)" stroke-width="1.7"/><path d="M786.20,471.00 L781.60,459.50 L786.20,461.70 L790.80,459.50 Z" fill="#333"/>
<circle cx="728.5" cy="489.4" r="8.8" fill="#b5d2ea" stroke="#8fbfe0" stroke-width="1.3"/>
<text font-size="13.5" font-weight="normal" fill="#222" text-anchor="middle" transform="translate(728.7,494.2) scale(1.0,1)">P</text>
<ellipse cx="786.2" cy="496.1" rx="52.6" ry="17.4" fill="#ec76a1" stroke="#d02453" stroke-width="1.3"/>
<text font-size="23.3" font-weight="bold" font-style="normal" fill="#000" transform="translate(747.1,505) scale(0.9949,1)" >STOP1</text>
<defs><linearGradient id="g9" x1="0" y1="530.7" x2="0" y2="590" gradientUnits="userSpaceOnUse"><stop offset="0" stop-color="#ffffff"/><stop offset="1" stop-color="#1a1a1a"/></linearGradient></defs>
<line x1="786.2" y1="530.7" x2="786.2" y2="581.5" stroke="url(#g9)" stroke-width="1.7"/><path d="M786.20,590.00 L781.60,578.50 L786.20,580.70 L790.80,578.50 Z" fill="#333"/>
<defs><linearGradient id="g10" x1="766" y1="521" x2="728" y2="555" gradientUnits="userSpaceOnUse"><stop offset="0" stop-color="#ffffff"/><stop offset="1" stop-color="#1a1a1a"/></linearGradient></defs>
<line x1="765.8" y1="521.2" x2="728.4" y2="554.8" stroke="url(#g10)" stroke-width="1.8"/><line x1="723.9" y1="550.6" x2="732.9" y2="559.1" stroke="#1a1a1a" stroke-width="2"/>
<rect x="560.8" y="517.6" width="102.2" height="28.5" rx="14.25" fill="#dcdcdc" stroke="#c9c9c9" stroke-width="1"/>
<text font-size="23.3" font-weight="bold" font-style="normal" fill="#fff" transform="translate(572.07,540) scale(1.019,1)" >PUB24</text>
<ellipse cx="668.1" cy="563.3" rx="52.6" ry="17.2" fill="#dcdcdc" stroke="#c9c9c9" stroke-width="1"/>
<text font-size="23.3" font-weight="bold" font-style="normal" fill="#fff" transform="translate(628.19,571) scale(1.0134,1)" >STOP1</text>
<circle cx="711.2" cy="529.5" r="8" fill="#dcdcdc" stroke="#c9c9c9" stroke-width="1"/>
<text font-size="13" font-weight="normal" fill="#fff" text-anchor="middle" transform="translate(711.2,534.1) scale(1.0,1)">U</text>
<circle cx="728.4" cy="528.6" r="8" fill="#dcdcdc" stroke="#c9c9c9" stroke-width="1"/>
<text font-size="13" font-weight="normal" fill="#fff" text-anchor="middle" transform="translate(728.4,533.2) scale(1.0,1)">U</text>
<circle cx="707.6" cy="545.2" r="8" fill="#dcdcdc" stroke="#c9c9c9" stroke-width="1"/>
<text font-size="13" font-weight="normal" fill="#fff" text-anchor="middle" transform="translate(707.6,549.8000000000001) scale(1.0,1)">U</text>
<line x1="614.2" y1="578.3" x2="594" y2="612" stroke="#d3d4d8" stroke-width="2"/><path d="M590.00,618.60 L591.65,606.71 L594.17,611.78 L599.83,611.72 Z" fill="#d3d4d8"/>
<rect x="563" y="636" width="49" height="74" rx="5" fill="#c8c8c8"/><rect x="563" y="657" width="49" height="42" fill="#c8c8c8"/><rect x="563" y="668" width="49" height="20" fill="#c8c8c8"/><circle cx="571.0" cy="635.4" r="6.5" fill="#d7d7d7" stroke="#c8c8c8" stroke-width="0.8"/><circle cx="580.6" cy="629.0" r="7.2" fill="#d7d7d7" stroke="#c8c8c8" stroke-width="0.8"/><circle cx="566.5" cy="642.0" r="5.2" fill="#d7d7d7" stroke="#c8c8c8" stroke-width="0.8"/><circle cx="608.5" cy="642.0" r="5.2" fill="#d7d7d7" stroke="#c8c8c8" stroke-width="0.8"/><circle cx="566.5" cy="652.5" r="5.2" fill="#d7d7d7" stroke="#c8c8c8" stroke-width="0.8"/><circle cx="608.5" cy="652.5" r="5.2" fill="#d7d7d7" stroke="#c8c8c8" stroke-width="0.8"/><circle cx="566.5" cy="663.0" r="5.2" fill="#d7d7d7" stroke="#c8c8c8" stroke-width="0.8"/><circle cx="608.5" cy="663.0" r="5.2" fill="#d7d7d7" stroke="#c8c8c8" stroke-width="0.8"/><circle cx="566.5" cy="673.5" r="5.2" fill="#d7d7d7" stroke="#c8c8c8" stroke-width="0.8"/><circle cx="608.5" cy="673.5" r="5.2" fill="#d7d7d7" stroke="#c8c8c8" stroke-width="0.8"/><circle cx="566.5" cy="684.0" r="5.2" fill="#d7d7d7" stroke="#c8c8c8" stroke-width="0.8"/><circle cx="608.5" cy="684.0" r="5.2" fill="#d7d7d7" stroke="#c8c8c8" stroke-width="0.8"/><circle cx="566.5" cy="694.5" r="5.2" fill="#d7d7d7" stroke="#c8c8c8" stroke-width="0.8"/><circle cx="608.5" cy="694.5" r="5.2" fill="#d7d7d7" stroke="#c8c8c8" stroke-width="0.8"/><circle cx="566.5" cy="705.0" r="5.2" fill="#d7d7d7" stroke="#c8c8c8" stroke-width="0.8"/><circle cx="608.5" cy="705.0" r="5.2" fill="#d7d7d7" stroke="#c8c8c8" stroke-width="0.8"/><circle cx="576.0" cy="641.0" r="6" fill="#d7d7d7" stroke="#c8c8c8" stroke-width="0.8"/><circle cx="599.0" cy="641.0" r="6" fill="#d7d7d7" stroke="#c8c8c8" stroke-width="0.8"/><circle cx="576.0" cy="651.5" r="6" fill="#d7d7d7" stroke="#c8c8c8" stroke-width="0.8"/><circle cx="599.0" cy="651.5" r="6" fill="#d7d7d7" stroke="#c8c8c8" stroke-width="0.8"/><circle cx="576.0" cy="662.0" r="6" fill="#d7d7d7" stroke="#c8c8c8" stroke-width="0.8"/><circle cx="599.0" cy="662.0" r="6" fill="#d7d7d7" stroke="#c8c8c8" stroke-width="0.8"/><circle cx="576.0" cy="672.5" r="6" fill="#d7d7d7" stroke="#c8c8c8" stroke-width="0.8"/><circle cx="599.0" cy="672.5" r="6" fill="#d7d7d7" stroke="#c8c8c8" stroke-width="0.8"/><circle cx="576.0" cy="683.0" r="6" fill="#d7d7d7" stroke="#c8c8c8" stroke-width="0.8"/><circle cx="599.0" cy="683.0" r="6" fill="#d7d7d7" stroke="#c8c8c8" stroke-width="0.8"/><circle cx="576.0" cy="693.5" r="6" fill="#d7d7d7" stroke="#c8c8c8" stroke-width="0.8"/><circle cx="599.0" cy="693.5" r="6" fill="#d7d7d7" stroke="#c8c8c8" stroke-width="0.8"/><circle cx="576.0" cy="704.0" r="6" fill="#d7d7d7" stroke="#c8c8c8" stroke-width="0.8"/><circle cx="599.0" cy="704.0" r="6" fill="#d7d7d7" stroke="#c8c8c8" stroke-width="0.8"/><circle cx="587.5" cy="642.5" r="6.4" fill="#d7d7d7" stroke="#c8c8c8" stroke-width="0.8"/><circle cx="587.5" cy="653.0" r="6.4" fill="#d7d7d7" stroke="#c8c8c8" stroke-width="0.8"/><circle cx="587.5" cy="663.5" r="6.4" fill="#d7d7d7" stroke="#c8c8c8" stroke-width="0.8"/><circle cx="587.5" cy="674.0" r="6.4" fill="#d7d7d7" stroke="#c8c8c8" stroke-width="0.8"/><circle cx="587.5" cy="684.5" r="6.4" fill="#d7d7d7" stroke="#c8c8c8" stroke-width="0.8"/><circle cx="587.5" cy="695.0" r="6.4" fill="#d7d7d7" stroke="#c8c8c8" stroke-width="0.8"/><circle cx="587.5" cy="705.5" r="6.4" fill="#d7d7d7" stroke="#c8c8c8" stroke-width="0.8"/><circle cx="581.6" cy="643.8" r="6.8" fill="#d7d7d7" stroke="#c8c8c8" stroke-width="0.8"/><circle cx="608.6" cy="701.0" r="5.5" fill="#d7d7d7" stroke="#c8c8c8" stroke-width="0.8"/><circle cx="602.3" cy="711.4" r="6.5" fill="#d7d7d7" stroke="#c8c8c8" stroke-width="0.8"/><circle cx="592.8" cy="717.7" r="7" fill="#d7d7d7" stroke="#c8c8c8" stroke-width="0.8"/>
<path d="M588.5,631 C594,626 607,625.5 611.5,630.5 C614,635 609,642 600,645.5 L594,647 C588,645 586,635 588.5,631 Z" fill="#d7d7d7" stroke="#c8c8c8" stroke-width="0.7"/>
<circle cx="563" cy="717.4" r="2.7" fill="#d7d7d7" stroke="#c8c8c8" stroke-width="0.6"/>
<circle cx="571" cy="720.9" r="2.7" fill="#d7d7d7" stroke="#c8c8c8" stroke-width="0.6"/>
<circle cx="579" cy="716.9" r="2.7" fill="#d7d7d7" stroke="#c8c8c8" stroke-width="0.6"/>
<circle cx="565" cy="725.4" r="2.7" fill="#d7d7d7" stroke="#c8c8c8" stroke-width="0.6"/>
<circle cx="579" cy="723.8" r="2.7" fill="#d7d7d7" stroke="#c8c8c8" stroke-width="0.6"/>
<circle cx="573.1" cy="729.8" r="2.7" fill="#d7d7d7" stroke="#c8c8c8" stroke-width="0.6"/>
<line x1="799.52" y1="640.10" x2="799.52" y2="653.70" stroke="#a4a4a4" stroke-width="1"/><line x1="801.99" y1="640.10" x2="801.99" y2="653.70" stroke="#a4a4a4" stroke-width="1"/><line x1="804.45" y1="640.10" x2="804.45" y2="653.70" stroke="#a4a4a4" stroke-width="1"/><line x1="827.61" y1="640.10" x2="827.61" y2="653.70" stroke="#a4a4a4" stroke-width="1"/><line x1="830.07" y1="640.10" x2="830.07" y2="653.70" stroke="#a4a4a4" stroke-width="1"/><line x1="832.53" y1="640.10" x2="832.53" y2="653.70" stroke="#a4a4a4" stroke-width="1"/><line x1="855.69" y1="640.10" x2="855.69" y2="653.70" stroke="#a4a4a4" stroke-width="1"/><line x1="858.15" y1="640.10" x2="858.15" y2="653.70" stroke="#a4a4a4" stroke-width="1"/><line x1="860.62" y1="640.10" x2="860.62" y2="653.70" stroke="#a4a4a4" stroke-width="1"/><line x1="883.78" y1="640.10" x2="883.78" y2="653.70" stroke="#a4a4a4" stroke-width="1"/><line x1="886.24" y1="640.10" x2="886.24" y2="653.70" stroke="#a4a4a4" stroke-width="1"/><line x1="888.70" y1="640.10" x2="888.70" y2="653.70" stroke="#a4a4a4" stroke-width="1"/><line x1="911.87" y1="640.10" x2="911.87" y2="653.70" stroke="#a4a4a4" stroke-width="1"/><line x1="914.33" y1="640.10" x2="914.33" y2="653.70" stroke="#a4a4a4" stroke-width="1"/><line x1="916.78" y1="640.10" x2="916.78" y2="653.70" stroke="#a4a4a4" stroke-width="1"/><line x1="939.95" y1="640.10" x2="939.95" y2="653.70" stroke="#a4a4a4" stroke-width="1"/><line x1="942.41" y1="640.10" x2="942.41" y2="653.70" stroke="#a4a4a4" stroke-width="1"/><line x1="944.87" y1="640.10" x2="944.87" y2="653.70" stroke="#a4a4a4" stroke-width="1"/><path d="M778.00,656.25 C791.33,656.25 795.42,633.30 808.75,633.30 M835.40,656.25 C848.73,656.25 852.83,633.30 866.15,633.30 M892.80,656.25 C906.12,656.25 910.23,633.30 923.55,633.30 M792.86,656.25 C806.19,656.25 810.29,633.30 823.61,633.30 M850.26,656.25 C863.59,656.25 867.69,633.30 881.01,633.30 M907.66,656.25 C920.99,656.25 925.09,633.30 938.41,633.30" fill="none" stroke="#1b2370" stroke-width="4.8"/><path d="M803.62,635.17 C806.19,633.55 807.73,633.30 808.75,633.30 C821.05,633.30 823.10,656.25 835.40,656.25 M861.02,635.17 C863.59,633.55 865.12,633.30 866.15,633.30 C878.45,633.30 880.50,656.25 892.80,656.25 M918.42,635.17 C920.99,633.55 922.52,633.30 923.55,633.30 C935.85,633.30 937.90,656.25 950.20,656.25 M818.49,635.17 C821.05,633.55 822.59,633.30 823.61,633.30 C835.91,633.30 837.96,656.25 850.26,656.25 M875.89,635.17 C878.45,633.55 879.99,633.30 881.01,633.30 C893.31,633.30 895.36,656.25 907.66,656.25 M933.29,635.17 C935.85,633.55 937.39,633.30 938.41,633.30 C950.71,633.30 952.76,656.25 965.06,656.25" fill="none" stroke="#1c7ac2" stroke-width="4.8"/><path d="M819.21,644.52 L825.15,644.52 M876.61,644.52 L882.55,644.52 M934.00,644.52 L939.95,644.52 M834.07,644.52 L840.01,644.52 M891.47,644.52 L897.41,644.52 M948.87,644.52 L954.81,644.52" fill="none" stroke="#62c4ee" stroke-width="1.3"/>
<circle cx="728.5" cy="605.3" r="8.8" fill="#b5d2ea" stroke="#8fbfe0" stroke-width="1.3"/>
<text font-size="13.5" font-weight="normal" fill="#222" text-anchor="middle" transform="translate(728.7,610.1) scale(1.0,1)">P</text>
<ellipse cx="786.2" cy="615.7" rx="52.7" ry="17.2" fill="#ec76a1" stroke="#d02453" stroke-width="1.3"/>
<text font-size="23.3" font-weight="bold" font-style="normal" fill="#000" transform="translate(747.38,623) scale(1.003,1)" >STOP1</text>
<text font-size="21.8" font-weight="bold" font-style="italic" fill="#000" transform="translate(867.47,615) scale(1.0572,1)" >GDH1, GDH2</text>
<path d="M896.1,648 L896.1,624.5 L944,624.5" fill="none" stroke="#111" stroke-width="2.2"/><path d="M952.10,624.20 L939.60,628.60 L942.60,624.20 L939.60,619.80 Z" fill="#111"/>
<defs><linearGradient id="g11" x1="0" y1="683.2" x2="0" y2="740.2" gradientUnits="userSpaceOnUse"><stop offset="0" stop-color="#ffffff"/><stop offset="1" stop-color="#1a1a1a"/></linearGradient></defs>
<line x1="786" y1="683.2" x2="786" y2="731.7" stroke="url(#g11)" stroke-width="1.7"/><path d="M786.00,740.20 L781.40,728.70 L786.00,730.90 L790.60,728.70 Z" fill="#333"/>
<text font-size="24.7" font-weight="bold" font-style="normal" fill="#000" transform="translate(611.6,762) scale(0.9356,1)" >Hypoxia-responsive pH-regulated</text>
<text font-size="24.7" font-weight="bold" font-style="normal" fill="#000" transform="translate(592.71,790) scale(0.9394,1)" >metabolism and cellular homeostasis</text>
</svg></body></html>
